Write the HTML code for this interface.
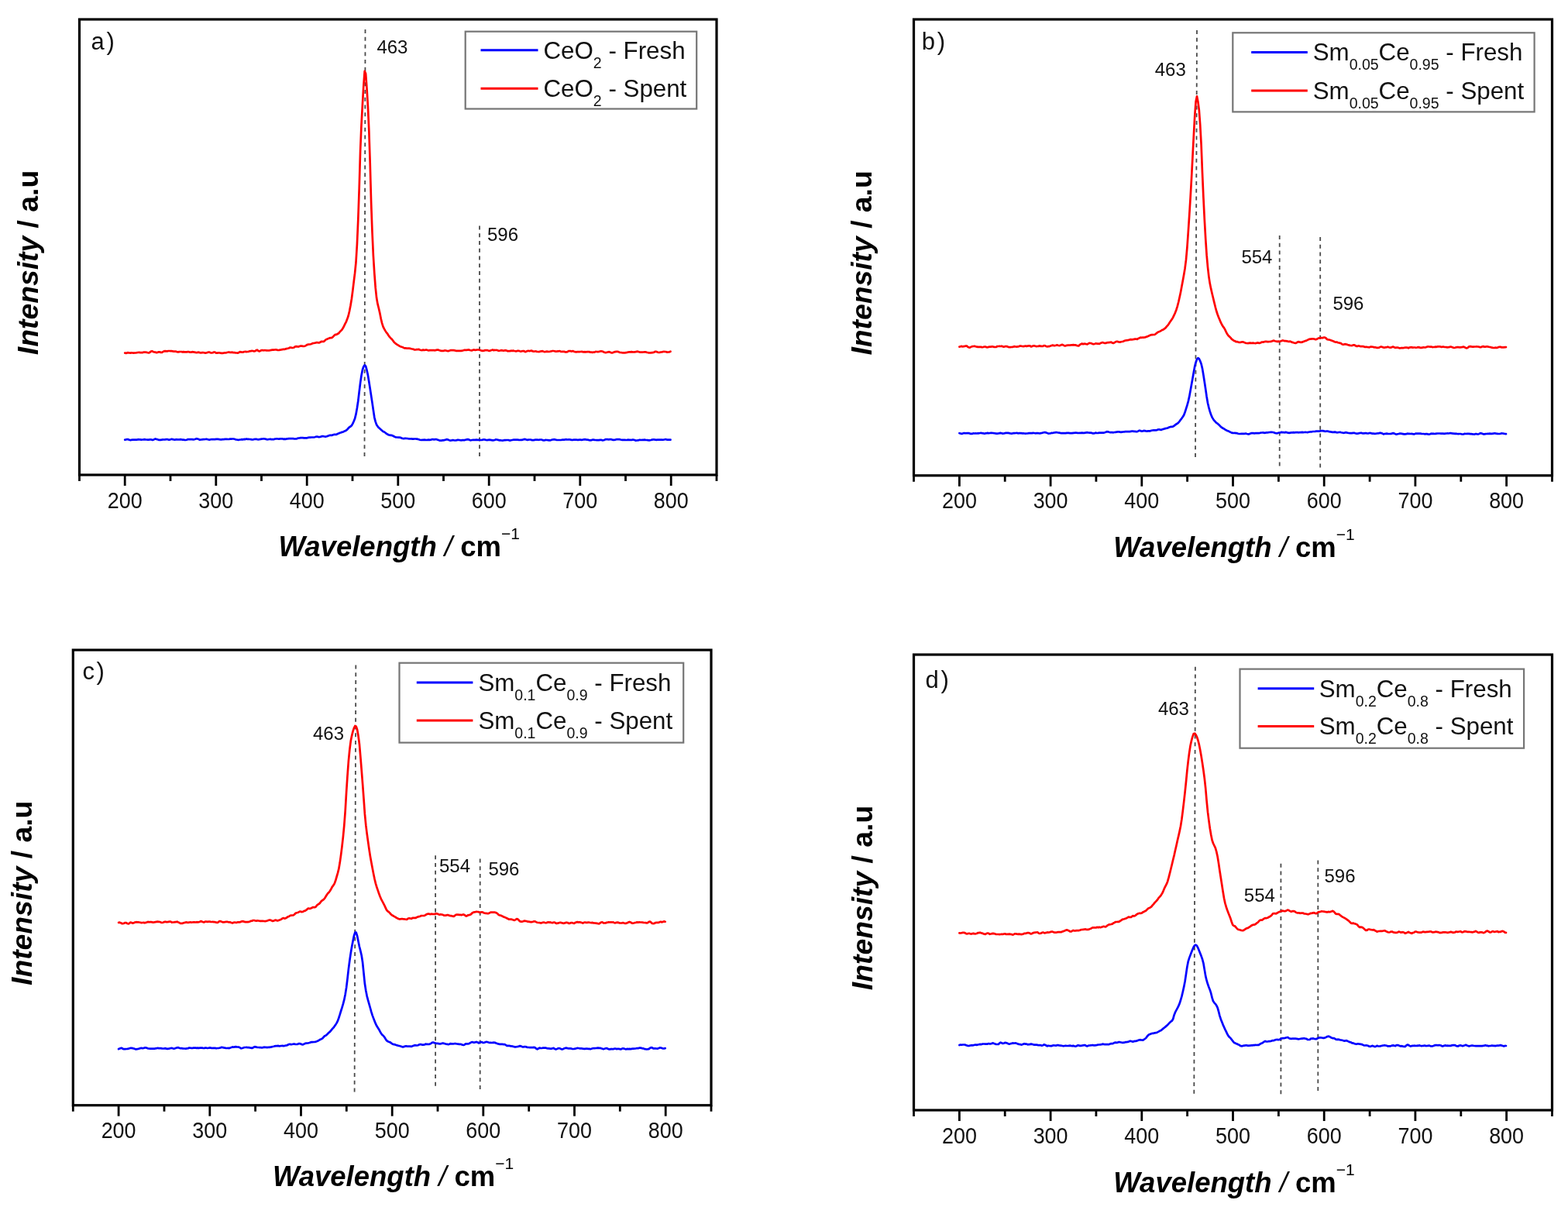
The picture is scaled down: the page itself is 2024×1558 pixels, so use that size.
<!DOCTYPE html>
<html><head><meta charset="utf-8"><title>Raman spectra of fresh and spent CeO2 and Sm-doped ceria</title>
<style>html,body{margin:0;padding:0;background:#fff;overflow:hidden}svg{display:block}text{font-family:"Liberation Sans", Arial, sans-serif}</style>
</head><body>
<svg width="2024" height="1558" viewBox="0 0 2024 1558">
<rect width="2024" height="1558" fill="#fff"/>
<g id="panel-a">
<line x1="471.5" y1="38" x2="470.5" y2="592" stroke="#4a4a4a" stroke-width="1.8" stroke-dasharray="5,4.75"/>
<line x1="619" y1="291.5" x2="619" y2="592" stroke="#4a4a4a" stroke-width="1.8" stroke-dasharray="5,4.75"/>
<path d="M161.2,455.7 L162.7,455.9 L164.1,455.4 L165.5,455.2 L166.9,455.5 L168.3,455.6 L169.7,455.4 L171.1,455.5 L172.5,455.7 L173.9,455.5 L175.3,455.5 L176.7,455.2 L178.1,455.0 L179.5,454.8 L180.9,455.1 L182.3,455.2 L183.7,455.2 L185.1,454.7 L186.5,454.6 L187.9,454.7 L189.3,454.8 L190.7,455.2 L192.1,455.5 L193.5,454.8 L194.9,453.6 L196.3,453.3 L197.7,454.0 L199.1,454.5 L200.5,454.6 L201.9,455.2 L203.3,454.9 L204.7,454.3 L206.1,454.3 L207.5,454.9 L208.9,455.0 L210.3,454.2 L211.7,453.4 L213.1,453.1 L214.5,453.4 L215.9,453.4 L217.3,453.0 L218.7,453.0 L220.1,453.1 L221.5,453.2 L222.9,453.4 L224.3,453.7 L225.7,453.6 L227.1,453.7 L228.5,454.1 L229.9,454.4 L231.3,454.1 L232.7,454.0 L234.1,454.0 L235.5,454.4 L236.9,454.1 L238.3,454.4 L239.7,454.4 L241.1,454.4 L242.5,454.0 L243.9,454.2 L245.3,454.7 L246.7,454.6 L248.1,454.2 L249.5,454.3 L250.9,454.6 L252.3,454.9 L253.7,455.2 L255.1,454.9 L256.5,454.7 L257.9,455.1 L259.3,455.5 L260.7,455.1 L262.1,455.0 L263.5,455.3 L264.9,455.7 L266.3,455.5 L267.7,455.0 L269.1,454.6 L270.5,454.7 L271.9,455.3 L273.3,455.5 L274.7,455.2 L276.1,454.5 L277.5,454.7 L278.9,455.6 L280.3,455.7 L281.7,455.4 L283.1,455.3 L284.5,455.7 L285.9,455.9 L287.3,455.9 L288.7,455.7 L290.1,455.3 L291.5,455.5 L292.9,455.0 L294.3,454.7 L295.7,454.6 L297.1,454.8 L298.5,454.8 L299.9,454.7 L301.3,455.2 L302.7,455.2 L304.1,455.4 L305.5,455.5 L306.9,455.7 L308.3,455.1 L309.7,454.2 L311.1,454.4 L312.5,454.7 L313.9,454.6 L315.3,454.0 L316.7,453.9 L318.1,454.1 L319.5,454.0 L320.9,453.8 L322.3,453.3 L323.7,453.2 L325.1,452.9 L326.5,453.0 L327.9,453.4 L329.3,453.2 L330.7,452.1 L332.1,451.7 L333.5,453.0 L334.9,453.5 L336.3,452.7 L337.7,452.1 L339.1,452.2 L340.5,452.3 L341.9,452.0 L343.3,452.3 L344.7,452.4 L346.1,452.5 L347.5,452.3 L348.9,452.1 L350.3,451.8 L351.7,451.6 L353.1,451.7 L354.5,451.5 L355.9,451.3 L357.3,451.6 L358.7,452.0 L360.1,452.0 L361.5,451.6 L362.9,451.4 L364.3,451.1 L365.7,450.9 L367.1,450.9 L368.5,450.4 L369.9,450.1 L371.3,449.8 L372.7,449.5 L374.1,448.7 L375.5,448.5 L376.9,449.0 L378.3,448.8 L379.7,448.5 L381.1,447.3 L382.5,447.2 L383.9,447.3 L385.3,447.6 L386.7,447.1 L388.1,446.6 L389.5,446.7 L390.9,446.8 L392.3,447.0 L393.7,446.7 L395.1,445.9 L396.5,445.0 L397.9,444.6 L399.3,444.5 L400.7,444.3 L402.1,444.0 L403.5,443.2 L404.9,443.0 L406.3,442.7 L407.7,442.4 L409.1,442.0 L410.5,442.3 L411.9,442.4 L413.3,441.8 L414.7,440.8 L416.1,440.9 L417.5,441.0 L418.9,440.2 L420.3,438.6 L421.7,437.9 L423.1,437.3 L424.5,436.8 L425.9,436.1 L427.3,436.1 L428.7,435.7 L430.1,434.4 L431.5,433.0 L432.9,431.8 L434.3,431.8 L435.7,431.0 L437.1,430.3 L438.5,428.5 L439.9,427.1 L441.3,425.7 L442.7,423.6 L444.1,420.8 L445.5,417.9 L446.9,415.3 L448.3,411.6 L449.7,407.5 L451.1,401.5 L452.5,394.3 L453.9,385.8 L455.3,375.3 L456.7,363.7 L458.1,352.4 L459.5,338.5 L460.9,315.5 L462.3,283.2 L463.7,242.7 L465.1,195.0 L466.5,161.4 L467.9,135.4 L469.3,110.8 L470.7,91.9 L472.1,95.1 L473.5,113.9 L474.9,137.2 L476.3,168.2 L477.7,210.2 L479.1,261.3 L480.5,299.8 L481.9,330.5 L483.3,352.9 L484.7,371.4 L486.1,384.6 L487.5,392.4 L488.9,398.0 L490.3,404.1 L491.7,411.2 L493.1,417.1 L494.5,421.6 L495.9,424.4 L497.3,426.9 L498.7,429.1 L500.1,430.7 L501.5,433.0 L502.9,434.9 L504.3,436.4 L505.7,437.7 L507.1,439.5 L508.5,441.4 L509.9,442.7 L511.3,443.9 L512.7,444.9 L514.1,445.7 L515.5,446.6 L516.9,447.3 L518.3,447.8 L519.7,448.1 L521.1,448.9 L522.5,449.4 L523.9,449.4 L525.3,449.7 L526.7,449.7 L528.1,449.7 L529.5,449.8 L530.9,450.2 L532.3,450.5 L533.7,450.8 L535.1,451.5 L536.5,451.4 L537.9,451.2 L539.3,451.1 L540.7,450.9 L542.1,451.7 L543.5,452.0 L544.9,452.1 L546.3,451.6 L547.7,452.0 L549.1,451.7 L550.5,451.5 L551.9,452.0 L553.3,452.4 L554.7,452.1 L556.1,452.1 L557.5,452.0 L558.9,452.1 L560.3,452.2 L561.7,452.3 L563.1,451.8 L564.5,451.6 L565.9,451.7 L567.3,452.3 L568.7,452.6 L570.1,453.0 L571.5,452.8 L572.9,452.8 L574.3,452.4 L575.7,452.5 L577.1,453.0 L578.5,453.2 L579.9,452.7 L581.3,452.2 L582.7,452.1 L584.1,452.1 L585.5,452.1 L586.9,452.3 L588.3,452.8 L589.7,452.9 L591.1,452.9 L592.5,452.8 L593.9,452.8 L595.3,452.9 L596.7,452.6 L598.1,452.3 L599.5,451.8 L600.9,451.9 L602.3,451.8 L603.7,451.7 L605.1,451.4 L606.5,452.0 L607.9,452.3 L609.3,452.4 L610.7,451.7 L612.1,451.6 L613.5,451.8 L614.9,451.7 L616.3,451.5 L617.7,451.5 L619.1,451.7 L620.5,452.2 L621.9,452.7 L623.3,452.9 L624.7,452.7 L626.1,452.1 L627.5,452.1 L628.9,452.1 L630.3,452.6 L631.7,452.9 L633.1,452.4 L634.5,452.0 L635.9,451.5 L637.3,452.2 L638.7,451.9 L640.1,452.0 L641.5,451.9 L642.9,452.6 L644.3,452.8 L645.7,452.5 L647.1,452.1 L648.5,452.4 L649.9,452.7 L651.3,452.4 L652.7,452.2 L654.1,452.6 L655.5,453.3 L656.9,453.0 L658.3,453.1 L659.7,452.7 L661.1,452.8 L662.5,452.6 L663.9,453.0 L665.3,453.3 L666.7,453.3 L668.1,452.9 L669.5,452.8 L670.9,453.3 L672.3,453.7 L673.7,453.3 L675.1,453.0 L676.5,453.2 L677.9,454.1 L679.3,453.7 L680.7,453.0 L682.1,452.9 L683.5,453.2 L684.9,452.8 L686.3,452.6 L687.7,453.5 L689.1,453.7 L690.5,453.5 L691.9,453.4 L693.3,454.0 L694.7,454.0 L696.1,454.1 L697.5,453.6 L698.9,453.4 L700.3,453.2 L701.7,453.7 L703.1,454.1 L704.5,453.9 L705.9,453.6 L707.3,453.8 L708.7,454.0 L710.1,453.7 L711.5,453.5 L712.9,453.0 L714.3,453.0 L715.7,453.3 L717.1,453.6 L718.5,453.7 L719.9,453.4 L721.3,453.3 L722.7,453.0 L724.1,454.0 L725.5,453.9 L726.9,453.9 L728.3,453.8 L729.7,454.4 L731.1,454.5 L732.5,454.1 L733.9,453.2 L735.3,453.0 L736.7,453.2 L738.1,453.6 L739.5,453.1 L740.9,453.7 L742.3,454.2 L743.7,454.3 L745.1,454.2 L746.5,454.1 L747.9,454.2 L749.3,454.0 L750.7,453.9 L752.1,454.1 L753.5,454.3 L754.9,454.2 L756.3,454.3 L757.7,454.2 L759.1,454.2 L760.5,454.1 L761.9,454.7 L763.3,454.6 L764.7,454.8 L766.1,454.7 L767.5,454.6 L768.9,453.9 L770.3,454.0 L771.7,454.2 L773.1,454.0 L774.5,453.5 L775.9,453.3 L777.3,453.5 L778.7,454.1 L780.1,454.8 L781.5,455.2 L782.9,455.0 L784.3,454.5 L785.7,454.2 L787.1,454.4 L788.5,455.1 L789.9,455.5 L791.3,455.1 L792.7,454.4 L794.1,454.1 L795.5,453.9 L796.9,453.8 L798.3,454.1 L799.7,454.8 L801.1,455.0 L802.5,455.2 L803.9,455.3 L805.3,455.3 L806.7,455.3 L808.1,455.1 L809.5,454.9 L810.9,454.5 L812.3,454.3 L813.7,454.4 L815.1,454.2 L816.5,454.3 L817.9,454.5 L819.3,454.3 L820.7,454.2 L822.1,453.7 L823.5,453.9 L824.9,454.3 L826.3,454.7 L827.7,454.7 L829.1,454.7 L830.5,454.5 L831.9,454.3 L833.3,454.3 L834.7,454.8 L836.1,455.0 L837.5,455.5 L838.9,455.4 L840.3,455.4 L841.7,455.1 L843.1,455.1 L844.5,454.5 L845.9,453.8 L847.3,453.9 L848.7,454.5 L850.1,455.0 L851.5,454.9 L852.9,454.5 L854.3,454.5 L855.7,454.0 L857.1,453.9 L858.5,454.0 L859.9,454.2 L861.3,454.6 L862.7,454.5 L864.1,454.3 L865.5,453.7" fill="none" stroke="#ff0000" stroke-width="2.7" stroke-linejoin="round" stroke-linecap="round"/>
<path d="M161.2,567.6 L162.7,567.4 L164.1,567.0 L165.5,567.2 L166.9,567.8 L168.3,568.1 L169.7,567.8 L171.1,567.7 L172.5,567.6 L173.9,567.6 L175.3,567.6 L176.7,567.6 L178.1,567.2 L179.5,567.3 L180.9,567.4 L182.3,567.6 L183.7,567.5 L185.1,567.4 L186.5,567.2 L187.9,567.4 L189.3,567.5 L190.7,567.7 L192.1,567.6 L193.5,567.4 L194.9,567.4 L196.3,567.8 L197.7,567.8 L199.1,567.1 L200.5,566.4 L201.9,566.9 L203.3,567.3 L204.7,567.8 L206.1,567.8 L207.5,567.8 L208.9,567.6 L210.3,567.4 L211.7,567.5 L213.1,567.3 L214.5,567.1 L215.9,567.1 L217.3,567.6 L218.7,567.7 L220.1,567.3 L221.5,566.8 L222.9,567.1 L224.3,567.4 L225.7,567.6 L227.1,567.2 L228.5,567.3 L229.9,567.4 L231.3,567.5 L232.7,567.1 L234.1,567.3 L235.5,567.6 L236.9,567.7 L238.3,567.9 L239.7,568.0 L241.1,567.7 L242.5,567.1 L243.9,567.1 L245.3,567.2 L246.7,567.2 L248.1,567.1 L249.5,567.3 L250.9,567.1 L252.3,566.8 L253.7,566.2 L255.1,566.5 L256.5,567.0 L257.9,567.7 L259.3,567.5 L260.7,567.3 L262.1,567.1 L263.5,567.1 L264.9,567.0 L266.3,566.7 L267.7,567.0 L269.1,567.5 L270.5,567.6 L271.9,567.3 L273.3,567.0 L274.7,567.1 L276.1,567.2 L277.5,567.1 L278.9,566.9 L280.3,566.8 L281.7,566.9 L283.1,567.2 L284.5,567.3 L285.9,567.4 L287.3,567.2 L288.7,567.2 L290.1,566.9 L291.5,566.9 L292.9,566.9 L294.3,567.0 L295.7,566.9 L297.1,566.7 L298.5,566.7 L299.9,566.5 L301.3,566.5 L302.7,566.8 L304.1,567.3 L305.5,567.5 L306.9,567.8 L308.3,567.8 L309.7,567.5 L311.1,567.4 L312.5,567.2 L313.9,567.3 L315.3,566.9 L316.7,567.1 L318.1,566.6 L319.5,566.8 L320.9,566.9 L322.3,567.0 L323.7,567.1 L325.1,567.4 L326.5,567.5 L327.9,567.0 L329.3,566.8 L330.7,566.8 L332.1,567.1 L333.5,567.3 L334.9,567.2 L336.3,566.8 L337.7,566.6 L339.1,566.5 L340.5,566.4 L341.9,566.5 L343.3,566.9 L344.7,567.3 L346.1,567.2 L347.5,567.0 L348.9,566.7 L350.3,567.2 L351.7,567.2 L353.1,567.2 L354.5,566.7 L355.9,566.5 L357.3,566.4 L358.7,566.5 L360.1,566.7 L361.5,566.4 L362.9,566.4 L364.3,566.3 L365.7,566.8 L367.1,566.7 L368.5,566.9 L369.9,566.4 L371.3,566.4 L372.7,566.1 L374.1,566.1 L375.5,566.1 L376.9,566.2 L378.3,566.2 L379.7,566.4 L381.1,566.5 L382.5,566.4 L383.9,565.9 L385.3,565.5 L386.7,565.4 L388.1,565.2 L389.5,565.2 L390.9,565.2 L392.3,565.4 L393.7,565.3 L395.1,565.4 L396.5,565.3 L397.9,564.8 L399.3,564.6 L400.7,564.6 L402.1,564.5 L403.5,564.5 L404.9,564.5 L406.3,564.2 L407.7,563.8 L409.1,563.5 L410.5,563.9 L411.9,564.1 L413.3,564.0 L414.7,563.4 L416.1,563.2 L417.5,563.2 L418.9,563.5 L420.3,563.6 L421.7,563.3 L423.1,562.9 L424.5,562.2 L425.9,561.9 L427.3,561.8 L428.7,561.8 L430.1,561.2 L431.5,560.8 L432.9,560.9 L434.3,560.8 L435.7,560.0 L437.1,559.5 L438.5,558.8 L439.9,558.5 L441.3,557.8 L442.7,557.6 L444.1,556.8 L445.5,556.3 L446.9,555.5 L448.3,554.4 L449.7,552.7 L451.1,551.3 L452.5,550.5 L453.9,549.2 L455.3,546.9 L456.7,543.8 L458.1,540.2 L459.5,534.7 L460.9,526.7 L462.3,517.5 L463.7,505.6 L465.1,494.3 L466.5,484.7 L467.9,477.4 L469.3,473.3 L470.7,471.3 L472.1,472.7 L473.5,477.7 L474.9,484.1 L476.3,492.8 L477.7,501.5 L479.1,510.6 L480.5,519.9 L481.9,529.5 L483.3,538.8 L484.7,544.4 L486.1,548.2 L487.5,550.4 L488.9,552.1 L490.3,553.3 L491.7,554.6 L493.1,555.7 L494.5,556.9 L495.9,557.5 L497.3,558.5 L498.7,559.6 L500.1,560.5 L501.5,561.2 L502.9,561.7 L504.3,561.9 L505.7,561.9 L507.1,562.5 L508.5,563.3 L509.9,564.0 L511.3,564.5 L512.7,564.5 L514.1,564.6 L515.5,564.6 L516.9,564.8 L518.3,565.4 L519.7,566.0 L521.1,566.2 L522.5,565.9 L523.9,565.9 L525.3,566.0 L526.7,566.2 L528.1,566.3 L529.5,566.5 L530.9,566.4 L532.3,566.6 L533.7,566.6 L535.1,566.5 L536.5,566.5 L537.9,566.7 L539.3,566.9 L540.7,567.2 L542.1,567.7 L543.5,568.0 L544.9,567.9 L546.3,567.8 L547.7,567.6 L549.1,567.8 L550.5,568.0 L551.9,567.8 L553.3,567.6 L554.7,567.8 L556.1,567.6 L557.5,567.2 L558.9,567.1 L560.3,567.3 L561.7,567.1 L563.1,567.1 L564.5,567.6 L565.9,567.9 L567.3,568.6 L568.7,568.6 L570.1,568.6 L571.5,568.2 L572.9,568.3 L574.3,567.9 L575.7,567.4 L577.1,567.2 L578.5,567.6 L579.9,568.3 L581.3,568.6 L582.7,568.5 L584.1,568.1 L585.5,568.2 L586.9,568.5 L588.3,568.5 L589.7,568.1 L591.1,567.7 L592.5,568.0 L593.9,568.2 L595.3,568.3 L596.7,568.1 L598.1,568.1 L599.5,568.1 L600.9,567.7 L602.3,567.4 L603.7,567.1 L605.1,567.4 L606.5,568.2 L607.9,568.3 L609.3,568.0 L610.7,567.8 L612.1,567.9 L613.5,567.8 L614.9,567.6 L616.3,567.9 L617.7,567.9 L619.1,568.0 L620.5,568.0 L621.9,568.0 L623.3,567.6 L624.7,567.3 L626.1,567.6 L627.5,568.0 L628.9,568.1 L630.3,567.8 L631.7,567.7 L633.1,567.9 L634.5,568.1 L635.9,568.4 L637.3,568.3 L638.7,568.0 L640.1,567.3 L641.5,567.5 L642.9,567.9 L644.3,568.3 L645.7,568.2 L647.1,568.5 L648.5,568.6 L649.9,568.4 L651.3,568.1 L652.7,568.1 L654.1,568.0 L655.5,568.0 L656.9,568.2 L658.3,568.6 L659.7,568.3 L661.1,568.0 L662.5,567.7 L663.9,567.6 L665.3,567.5 L666.7,567.7 L668.1,567.7 L669.5,567.8 L670.9,568.0 L672.3,567.9 L673.7,567.9 L675.1,567.4 L676.5,567.1 L677.9,566.9 L679.3,567.4 L680.7,567.9 L682.1,567.6 L683.5,567.5 L684.9,567.5 L686.3,568.1 L687.7,568.1 L689.1,568.1 L690.5,567.7 L691.9,567.6 L693.3,567.5 L694.7,567.8 L696.1,567.7 L697.5,567.5 L698.9,567.5 L700.3,568.1 L701.7,568.4 L703.1,568.3 L704.5,567.9 L705.9,568.0 L707.3,568.1 L708.7,568.4 L710.1,568.4 L711.5,568.0 L712.9,567.5 L714.3,567.3 L715.7,567.2 L717.1,567.5 L718.5,568.0 L719.9,568.0 L721.3,568.0 L722.7,568.0 L724.1,568.0 L725.5,567.7 L726.9,567.7 L728.3,567.7 L729.7,567.3 L731.1,567.2 L732.5,567.5 L733.9,567.4 L735.3,567.3 L736.7,567.6 L738.1,568.0 L739.5,567.8 L740.9,567.7 L742.3,567.6 L743.7,567.5 L745.1,567.8 L746.5,567.8 L747.9,567.7 L749.3,567.6 L750.7,567.8 L752.1,567.6 L753.5,567.3 L754.9,567.2 L756.3,567.4 L757.7,567.7 L759.1,567.7 L760.5,568.2 L761.9,568.3 L763.3,568.2 L764.7,567.7 L766.1,567.7 L767.5,567.9 L768.9,568.0 L770.3,568.2 L771.7,568.2 L773.1,568.1 L774.5,567.9 L775.9,567.8 L777.3,568.3 L778.7,568.3 L780.1,568.0 L781.5,567.2 L782.9,567.0 L784.3,567.1 L785.7,567.3 L787.1,567.2 L788.5,567.2 L789.9,567.4 L791.3,567.9 L792.7,567.8 L794.1,567.6 L795.5,567.2 L796.9,567.2 L798.3,567.1 L799.7,567.1 L801.1,567.5 L802.5,567.8 L803.9,567.8 L805.3,567.8 L806.7,567.9 L808.1,568.0 L809.5,567.9 L810.9,567.7 L812.3,567.8 L813.7,567.9 L815.1,568.0 L816.5,567.6 L817.9,567.7 L819.3,568.0 L820.7,568.7 L822.1,568.5 L823.5,568.4 L824.9,567.9 L826.3,567.9 L827.7,568.0 L829.1,567.9 L830.5,567.8 L831.9,567.7 L833.3,567.9 L834.7,568.0 L836.1,568.2 L837.5,568.4 L838.9,568.3 L840.3,568.0 L841.7,567.6 L843.1,567.4 L844.5,567.4 L845.9,567.7 L847.3,567.9 L848.7,567.7 L850.1,567.6 L851.5,567.7 L852.9,567.7 L854.3,567.5 L855.7,567.8 L857.1,567.5 L858.5,567.2 L859.9,567.2 L861.3,567.7 L862.7,567.7 L864.1,567.5 L865.5,567.6" fill="none" stroke="#0000ff" stroke-width="2.7" stroke-linejoin="round" stroke-linecap="round"/>
<rect x="102.5" y="25.0" width="822.5" height="588.0" fill="none" stroke="#000" stroke-width="3.2"/>
<line x1="102.5" y1="613.0" x2="102.5" y2="621.0" stroke="#000" stroke-width="2.8"/>
<line x1="161.2" y1="613.0" x2="161.2" y2="627.0" stroke="#000" stroke-width="2.8"/>
<text transform="translate(161.2,655.5) scale(0.935,1)" font-size="28.8" text-anchor="middle" fill="#111">200</text>
<line x1="220.0" y1="613.0" x2="220.0" y2="621.0" stroke="#000" stroke-width="2.8"/>
<line x1="278.8" y1="613.0" x2="278.8" y2="627.0" stroke="#000" stroke-width="2.8"/>
<text transform="translate(278.8,655.5) scale(0.935,1)" font-size="28.8" text-anchor="middle" fill="#111">300</text>
<line x1="337.5" y1="613.0" x2="337.5" y2="621.0" stroke="#000" stroke-width="2.8"/>
<line x1="396.2" y1="613.0" x2="396.2" y2="627.0" stroke="#000" stroke-width="2.8"/>
<text transform="translate(396.2,655.5) scale(0.935,1)" font-size="28.8" text-anchor="middle" fill="#111">400</text>
<line x1="455.0" y1="613.0" x2="455.0" y2="621.0" stroke="#000" stroke-width="2.8"/>
<line x1="513.8" y1="613.0" x2="513.8" y2="627.0" stroke="#000" stroke-width="2.8"/>
<text transform="translate(513.8,655.5) scale(0.935,1)" font-size="28.8" text-anchor="middle" fill="#111">500</text>
<line x1="572.5" y1="613.0" x2="572.5" y2="621.0" stroke="#000" stroke-width="2.8"/>
<line x1="631.2" y1="613.0" x2="631.2" y2="627.0" stroke="#000" stroke-width="2.8"/>
<text transform="translate(631.2,655.5) scale(0.935,1)" font-size="28.8" text-anchor="middle" fill="#111">600</text>
<line x1="690.0" y1="613.0" x2="690.0" y2="621.0" stroke="#000" stroke-width="2.8"/>
<line x1="748.8" y1="613.0" x2="748.8" y2="627.0" stroke="#000" stroke-width="2.8"/>
<text transform="translate(748.8,655.5) scale(0.935,1)" font-size="28.8" text-anchor="middle" fill="#111">700</text>
<line x1="807.5" y1="613.0" x2="807.5" y2="621.0" stroke="#000" stroke-width="2.8"/>
<line x1="866.2" y1="613.0" x2="866.2" y2="627.0" stroke="#000" stroke-width="2.8"/>
<text transform="translate(866.2,655.5) scale(0.935,1)" font-size="28.8" text-anchor="middle" fill="#111">800</text>
<line x1="925.0" y1="613.0" x2="925.0" y2="621.0" stroke="#000" stroke-width="2.8"/>
<text x="117.5" y="63.7" font-size="31" fill="#111">a</text>
<text x="137.5" y="63.7" font-size="31" fill="#111">)</text>
<text x="486.4" y="68.8" font-size="24" fill="#111">463</text>
<text x="629.0" y="311.2" font-size="24" fill="#111">596</text>
<rect x="600.7" y="40.7" width="298.5" height="99.8" fill="#fff" stroke="#767676" stroke-width="2.2"/>
<line x1="620.5" y1="64.8" x2="694.5" y2="64.8" stroke="#0000ff" stroke-width="3"/>
<line x1="620.5" y1="114.3" x2="694.5" y2="114.3" stroke="#ff0000" stroke-width="3"/>
<text x="701.5" y="75.5" font-size="31.3" fill="#111">CeO<tspan font-size="19.5" dy="12">2</tspan><tspan dy="-12">​</tspan> - Fresh</text>
<text x="701.5" y="125.0" font-size="31.3" fill="#111">CeO<tspan font-size="19.5" dy="12">2</tspan><tspan dy="-12">​</tspan> - Spent</text>
<text x="515.2" y="717.8" font-size="36.5" font-weight="bold" text-anchor="middle" fill="#000"><tspan font-style="italic">Wavelength</tspan><tspan font-style="italic" font-weight="normal"> / </tspan>cm<tspan font-size="21" font-weight="normal" dy="-22">&#8722;1</tspan></text>
<text transform="translate(48.5,339.0) rotate(-90)" font-size="37.3" font-weight="bold" text-anchor="middle" fill="#000"><tspan font-style="italic">Intensity</tspan> / a.u</text>
</g>
<g id="panel-b">
<line x1="1545" y1="39" x2="1543" y2="592" stroke="#4a4a4a" stroke-width="1.8" stroke-dasharray="5,4.75"/>
<line x1="1651.7" y1="304" x2="1651.7" y2="604" stroke="#4a4a4a" stroke-width="1.8" stroke-dasharray="5,4.75"/>
<line x1="1704.2" y1="306" x2="1704.2" y2="605.5" stroke="#4a4a4a" stroke-width="1.8" stroke-dasharray="5,4.75"/>
<path d="M1238.4,447.6 L1239.8,447.3 L1241.2,446.9 L1242.6,447.4 L1244.0,447.2 L1245.4,446.9 L1246.8,446.7 L1248.2,446.7 L1249.6,448.1 L1251.0,448.6 L1252.4,448.5 L1253.8,447.5 L1255.2,447.2 L1256.6,447.0 L1258.0,446.9 L1259.4,447.3 L1260.8,447.6 L1262.2,447.9 L1263.6,447.8 L1265.0,447.8 L1266.4,447.9 L1267.8,448.3 L1269.2,448.0 L1270.6,447.5 L1272.0,447.5 L1273.4,448.2 L1274.8,448.3 L1276.2,447.9 L1277.6,447.7 L1279.0,447.6 L1280.4,447.4 L1281.8,447.4 L1283.2,447.9 L1284.6,448.0 L1286.0,447.9 L1287.4,447.0 L1288.8,447.0 L1290.2,446.9 L1291.6,447.0 L1293.0,446.7 L1294.4,447.4 L1295.8,447.7 L1297.2,447.2 L1298.6,447.0 L1300.0,447.2 L1301.4,447.9 L1302.8,448.2 L1304.2,448.2 L1305.6,448.0 L1307.0,447.9 L1308.4,447.4 L1309.8,447.2 L1311.2,447.5 L1312.6,447.7 L1314.0,447.3 L1315.4,447.1 L1316.8,446.5 L1318.2,446.7 L1319.6,447.0 L1321.0,447.2 L1322.4,446.8 L1323.8,446.6 L1325.2,447.1 L1326.6,446.6 L1328.0,446.4 L1329.4,446.4 L1330.8,447.4 L1332.2,447.1 L1333.6,446.4 L1335.0,446.3 L1336.4,446.8 L1337.8,447.2 L1339.2,447.0 L1340.6,446.9 L1342.0,446.3 L1343.4,446.9 L1344.8,446.9 L1346.2,447.0 L1347.6,446.0 L1349.0,446.3 L1350.4,446.9 L1351.8,447.4 L1353.2,447.2 L1354.6,447.1 L1356.0,446.6 L1357.4,446.0 L1358.8,445.6 L1360.2,446.1 L1361.6,446.1 L1363.0,445.8 L1364.4,445.4 L1365.8,445.8 L1367.2,446.1 L1368.6,445.9 L1370.0,445.1 L1371.4,444.9 L1372.8,445.6 L1374.2,446.4 L1375.6,446.3 L1377.0,445.8 L1378.4,445.6 L1379.8,445.5 L1381.2,445.7 L1382.6,445.4 L1384.0,445.3 L1385.4,445.1 L1386.8,445.3 L1388.2,445.3 L1389.6,445.9 L1391.0,446.3 L1392.4,446.4 L1393.8,445.1 L1395.2,444.2 L1396.6,443.6 L1398.0,444.2 L1399.4,443.7 L1400.8,443.8 L1402.2,444.1 L1403.6,444.3 L1405.0,443.4 L1406.4,442.8 L1407.8,443.0 L1409.2,443.4 L1410.6,444.1 L1412.0,444.1 L1413.4,443.8 L1414.8,443.3 L1416.2,443.7 L1417.6,443.7 L1419.0,443.9 L1420.4,443.1 L1421.8,442.5 L1423.2,442.0 L1424.6,442.5 L1426.0,442.9 L1427.4,442.9 L1428.8,442.3 L1430.2,442.2 L1431.6,442.1 L1433.0,441.8 L1434.4,441.7 L1435.8,442.6 L1437.2,442.9 L1438.6,442.3 L1440.0,441.2 L1441.4,440.8 L1442.8,440.9 L1444.2,441.5 L1445.6,441.7 L1447.0,441.3 L1448.4,441.0 L1449.8,440.7 L1451.2,440.0 L1452.6,439.5 L1454.0,439.3 L1455.4,439.2 L1456.8,438.9 L1458.2,438.4 L1459.6,438.2 L1461.0,438.3 L1462.4,438.2 L1463.8,437.9 L1465.2,437.6 L1466.6,437.7 L1468.0,437.8 L1469.4,436.9 L1470.8,436.3 L1472.2,435.6 L1473.6,435.8 L1475.0,435.5 L1476.4,435.6 L1477.8,435.5 L1479.2,434.9 L1480.6,434.6 L1482.0,433.9 L1483.4,433.3 L1484.8,432.6 L1486.2,432.2 L1487.6,432.2 L1489.0,432.0 L1490.4,432.0 L1491.8,431.0 L1493.2,429.9 L1494.6,428.7 L1496.0,428.3 L1497.4,427.6 L1498.8,426.8 L1500.2,425.9 L1501.6,425.5 L1503.0,424.4 L1504.4,423.4 L1505.8,421.7 L1507.2,420.2 L1508.6,418.2 L1510.0,416.1 L1511.4,414.1 L1512.8,412.1 L1514.2,409.6 L1515.6,406.7 L1517.0,403.6 L1518.4,399.9 L1519.8,395.3 L1521.2,390.0 L1522.6,383.8 L1524.0,377.2 L1525.4,369.8 L1526.8,362.3 L1528.2,354.5 L1529.6,346.2 L1531.0,335.2 L1532.4,319.4 L1533.8,299.3 L1535.2,278.2 L1536.6,255.3 L1538.0,230.7 L1539.4,203.5 L1540.8,176.3 L1542.2,150.0 L1543.6,131.0 L1545.0,124.3 L1546.4,131.3 L1547.8,141.9 L1549.2,161.0 L1550.6,186.9 L1552.0,222.9 L1553.4,254.8 L1554.8,283.4 L1556.2,308.1 L1557.6,329.2 L1559.0,344.8 L1560.4,357.1 L1561.8,366.1 L1563.2,372.9 L1564.6,379.0 L1566.0,384.8 L1567.4,390.6 L1568.8,396.3 L1570.2,401.5 L1571.6,405.7 L1573.0,409.4 L1574.4,412.8 L1575.8,416.2 L1577.2,419.0 L1578.6,421.3 L1580.0,423.1 L1581.4,425.6 L1582.8,428.7 L1584.2,431.3 L1585.6,433.2 L1587.0,434.5 L1588.4,435.9 L1589.8,437.6 L1591.2,438.6 L1592.6,439.7 L1594.0,440.1 L1595.4,441.1 L1596.8,441.1 L1598.2,441.6 L1599.6,441.8 L1601.0,442.0 L1602.4,441.5 L1603.8,441.3 L1605.2,441.6 L1606.6,442.3 L1608.0,442.8 L1609.4,443.0 L1610.8,443.1 L1612.2,442.9 L1613.6,442.7 L1615.0,442.8 L1616.4,442.8 L1617.8,442.7 L1619.2,443.0 L1620.6,443.1 L1622.0,442.7 L1623.4,442.4 L1624.8,442.8 L1626.2,442.8 L1627.6,442.2 L1629.0,441.5 L1630.4,441.7 L1631.8,441.2 L1633.2,440.9 L1634.6,440.9 L1636.0,441.1 L1637.4,441.1 L1638.8,441.0 L1640.2,440.9 L1641.6,440.4 L1643.0,439.9 L1644.4,439.7 L1645.8,440.2 L1647.2,440.5 L1648.6,440.9 L1650.0,440.6 L1651.4,440.9 L1652.8,440.5 L1654.2,439.9 L1655.6,439.4 L1657.0,439.7 L1658.4,440.2 L1659.8,440.1 L1661.2,440.3 L1662.6,440.8 L1664.0,440.8 L1665.4,440.6 L1666.8,441.3 L1668.2,441.9 L1669.6,442.3 L1671.0,442.7 L1672.4,443.0 L1673.8,442.3 L1675.2,441.4 L1676.6,441.2 L1678.0,441.7 L1679.4,441.9 L1680.8,441.7 L1682.2,441.0 L1683.6,440.6 L1685.0,440.0 L1686.4,439.6 L1687.8,438.9 L1689.2,438.1 L1690.6,437.7 L1692.0,437.6 L1693.4,437.4 L1694.8,437.4 L1696.2,437.5 L1697.6,438.1 L1699.0,438.1 L1700.4,437.5 L1701.8,436.5 L1703.2,436.3 L1704.6,436.2 L1706.0,436.2 L1707.4,436.2 L1708.8,435.6 L1710.2,435.7 L1711.6,436.5 L1713.0,438.0 L1714.4,438.4 L1715.8,438.5 L1717.2,439.0 L1718.6,439.5 L1720.0,440.0 L1721.4,440.5 L1722.8,441.3 L1724.2,441.6 L1725.6,441.6 L1727.0,442.2 L1728.4,442.5 L1729.8,442.9 L1731.2,443.3 L1732.6,444.5 L1734.0,444.8 L1735.4,444.4 L1736.8,444.2 L1738.2,444.6 L1739.6,445.1 L1741.0,445.3 L1742.4,445.9 L1743.8,446.0 L1745.2,446.1 L1746.6,445.4 L1748.0,445.3 L1749.4,446.0 L1750.8,446.9 L1752.2,446.9 L1753.6,446.3 L1755.0,446.7 L1756.4,447.2 L1757.8,447.2 L1759.2,447.2 L1760.6,447.4 L1762.0,448.0 L1763.4,447.7 L1764.8,448.0 L1766.2,448.2 L1767.6,448.3 L1769.0,447.7 L1770.4,447.5 L1771.8,447.8 L1773.2,448.1 L1774.6,448.4 L1776.0,448.4 L1777.4,448.9 L1778.8,448.9 L1780.2,448.7 L1781.6,447.8 L1783.0,447.5 L1784.4,448.0 L1785.8,448.6 L1787.2,448.6 L1788.6,448.3 L1790.0,448.1 L1791.4,447.7 L1792.8,448.2 L1794.2,448.6 L1795.6,448.6 L1797.0,447.8 L1798.4,447.6 L1799.8,448.3 L1801.2,448.9 L1802.6,448.7 L1804.0,448.5 L1805.4,449.0 L1806.8,449.5 L1808.2,449.2 L1809.6,449.1 L1811.0,449.1 L1812.4,449.0 L1813.8,448.5 L1815.2,448.6 L1816.6,448.7 L1818.0,449.3 L1819.4,448.5 L1820.8,448.3 L1822.2,448.2 L1823.6,448.7 L1825.0,448.5 L1826.4,448.5 L1827.8,448.8 L1829.2,448.5 L1830.6,448.1 L1832.0,448.3 L1833.4,448.9 L1834.8,448.9 L1836.2,448.6 L1837.6,448.3 L1839.0,448.5 L1840.4,448.3 L1841.8,447.7 L1843.2,447.4 L1844.6,447.5 L1846.0,447.6 L1847.4,447.6 L1848.8,448.1 L1850.2,448.0 L1851.6,448.0 L1853.0,447.6 L1854.4,447.8 L1855.8,447.4 L1857.2,447.3 L1858.6,447.3 L1860.0,447.8 L1861.4,447.8 L1862.8,447.5 L1864.2,447.8 L1865.6,448.0 L1867.0,448.1 L1868.4,448.3 L1869.8,448.2 L1871.2,447.9 L1872.6,447.5 L1874.0,448.0 L1875.4,448.5 L1876.8,449.0 L1878.2,448.7 L1879.6,448.3 L1881.0,448.1 L1882.4,448.1 L1883.8,448.3 L1885.2,448.3 L1886.6,448.2 L1888.0,447.9 L1889.4,447.7 L1890.8,448.3 L1892.2,449.2 L1893.6,449.3 L1895.0,448.6 L1896.4,447.3 L1897.8,447.2 L1899.2,447.4 L1900.6,447.7 L1902.0,447.7 L1903.4,447.5 L1904.8,447.5 L1906.2,447.4 L1907.6,447.5 L1909.0,447.7 L1910.4,448.1 L1911.8,448.1 L1913.2,447.3 L1914.6,447.1 L1916.0,447.7 L1917.4,447.7 L1918.8,447.3 L1920.2,447.4 L1921.6,447.7 L1923.0,448.0 L1924.4,448.2 L1925.8,448.7 L1927.2,448.9 L1928.6,449.0 L1930.0,448.7 L1931.4,448.8 L1932.8,448.8 L1934.2,448.1 L1935.6,447.8 L1937.0,447.8 L1938.4,448.5 L1939.8,448.4 L1941.2,448.4 L1942.6,448.1 L1944.0,448.1" fill="none" stroke="#ff0000" stroke-width="2.7" stroke-linejoin="round" stroke-linecap="round"/>
<path d="M1238.4,559.2 L1239.8,559.5 L1241.2,559.9 L1242.6,559.6 L1244.0,559.1 L1245.4,559.0 L1246.8,559.3 L1248.2,559.0 L1249.6,559.1 L1251.0,559.2 L1252.4,559.8 L1253.8,559.9 L1255.2,559.8 L1256.6,559.3 L1258.0,559.5 L1259.4,559.3 L1260.8,559.5 L1262.2,559.2 L1263.6,559.3 L1265.0,559.0 L1266.4,558.9 L1267.8,559.2 L1269.2,559.3 L1270.6,559.7 L1272.0,559.4 L1273.4,559.2 L1274.8,558.9 L1276.2,559.3 L1277.6,559.0 L1279.0,558.9 L1280.4,558.9 L1281.8,559.0 L1283.2,559.2 L1284.6,559.3 L1286.0,559.7 L1287.4,559.7 L1288.8,559.5 L1290.2,559.1 L1291.6,558.9 L1293.0,559.2 L1294.4,559.6 L1295.8,559.5 L1297.2,559.1 L1298.6,558.8 L1300.0,558.8 L1301.4,558.9 L1302.8,559.1 L1304.2,559.5 L1305.6,559.6 L1307.0,559.4 L1308.4,559.1 L1309.8,559.1 L1311.2,559.0 L1312.6,558.9 L1314.0,559.3 L1315.4,559.1 L1316.8,559.2 L1318.2,559.2 L1319.6,559.4 L1321.0,559.3 L1322.4,559.5 L1323.8,559.6 L1325.2,559.5 L1326.6,559.4 L1328.0,559.2 L1329.4,559.0 L1330.8,559.1 L1332.2,559.1 L1333.6,558.9 L1335.0,559.0 L1336.4,559.3 L1337.8,559.2 L1339.2,559.1 L1340.6,559.2 L1342.0,559.5 L1343.4,559.1 L1344.8,559.0 L1346.2,558.5 L1347.6,558.2 L1349.0,558.1 L1350.4,558.4 L1351.8,558.9 L1353.2,559.6 L1354.6,559.5 L1356.0,559.3 L1357.4,558.9 L1358.8,559.0 L1360.2,558.5 L1361.6,558.3 L1363.0,558.2 L1364.4,558.2 L1365.8,558.5 L1367.2,558.6 L1368.6,558.9 L1370.0,559.1 L1371.4,559.2 L1372.8,559.1 L1374.2,559.2 L1375.6,559.1 L1377.0,558.9 L1378.4,558.8 L1379.8,558.9 L1381.2,559.2 L1382.6,559.2 L1384.0,559.1 L1385.4,558.9 L1386.8,558.8 L1388.2,558.5 L1389.6,558.7 L1391.0,558.8 L1392.4,559.0 L1393.8,558.8 L1395.2,558.8 L1396.6,558.7 L1398.0,558.8 L1399.4,558.8 L1400.8,558.6 L1402.2,558.4 L1403.6,558.2 L1405.0,558.5 L1406.4,558.6 L1407.8,558.7 L1409.2,558.8 L1410.6,559.4 L1412.0,559.4 L1413.4,558.9 L1414.8,558.7 L1416.2,559.0 L1417.6,558.9 L1419.0,558.6 L1420.4,558.5 L1421.8,558.6 L1423.2,558.7 L1424.6,558.6 L1426.0,558.3 L1427.4,557.8 L1428.8,557.2 L1430.2,557.3 L1431.6,557.8 L1433.0,558.1 L1434.4,558.2 L1435.8,558.2 L1437.2,558.3 L1438.6,558.0 L1440.0,557.8 L1441.4,557.6 L1442.8,557.4 L1444.2,557.4 L1445.6,557.6 L1447.0,557.8 L1448.4,557.6 L1449.8,557.5 L1451.2,557.3 L1452.6,557.2 L1454.0,557.1 L1455.4,557.2 L1456.8,557.2 L1458.2,557.1 L1459.6,556.9 L1461.0,556.7 L1462.4,556.6 L1463.8,556.8 L1465.2,556.9 L1466.6,557.2 L1468.0,557.1 L1469.4,556.4 L1470.8,555.7 L1472.2,556.1 L1473.6,556.7 L1475.0,556.5 L1476.4,555.9 L1477.8,556.1 L1479.2,556.4 L1480.6,556.6 L1482.0,556.3 L1483.4,556.3 L1484.8,556.3 L1486.2,555.8 L1487.6,555.5 L1489.0,555.4 L1490.4,555.4 L1491.8,555.3 L1493.2,555.2 L1494.6,554.5 L1496.0,554.3 L1497.4,554.6 L1498.8,554.9 L1500.2,554.3 L1501.6,553.9 L1503.0,553.4 L1504.4,553.1 L1505.8,552.8 L1507.2,552.5 L1508.6,551.8 L1510.0,551.2 L1511.4,550.9 L1512.8,550.9 L1514.2,550.5 L1515.6,549.6 L1517.0,548.4 L1518.4,547.5 L1519.8,546.7 L1521.2,545.4 L1522.6,543.8 L1524.0,541.8 L1525.4,540.0 L1526.8,538.0 L1528.2,535.7 L1529.6,532.0 L1531.0,527.7 L1532.4,523.2 L1533.8,518.1 L1535.2,511.9 L1536.6,504.3 L1538.0,496.5 L1539.4,488.8 L1540.8,480.7 L1542.2,473.0 L1543.6,467.7 L1545.0,463.8 L1546.4,462.1 L1547.8,463.1 L1549.2,466.0 L1550.6,469.8 L1552.0,475.6 L1553.4,484.0 L1554.8,493.0 L1556.2,502.2 L1557.6,512.0 L1559.0,520.2 L1560.4,526.1 L1561.8,531.1 L1563.2,535.3 L1564.6,538.6 L1566.0,540.9 L1567.4,542.9 L1568.8,544.4 L1570.2,545.9 L1571.6,546.7 L1573.0,548.0 L1574.4,549.3 L1575.8,550.8 L1577.2,551.8 L1578.6,552.8 L1580.0,553.5 L1581.4,554.5 L1582.8,555.3 L1584.2,555.9 L1585.6,556.4 L1587.0,557.2 L1588.4,557.9 L1589.8,558.6 L1591.2,558.8 L1592.6,559.0 L1594.0,558.9 L1595.4,559.1 L1596.8,559.2 L1598.2,559.7 L1599.6,560.0 L1601.0,560.0 L1602.4,559.8 L1603.8,559.9 L1605.2,559.9 L1606.6,559.8 L1608.0,559.5 L1609.4,560.0 L1610.8,560.3 L1612.2,560.4 L1613.6,559.7 L1615.0,559.2 L1616.4,559.0 L1617.8,559.1 L1619.2,559.3 L1620.6,559.1 L1622.0,559.1 L1623.4,559.2 L1624.8,559.1 L1626.2,559.0 L1627.6,558.5 L1629.0,558.5 L1630.4,558.4 L1631.8,558.8 L1633.2,558.7 L1634.6,558.4 L1636.0,558.3 L1637.4,558.2 L1638.8,558.0 L1640.2,557.8 L1641.6,557.8 L1643.0,558.0 L1644.4,558.3 L1645.8,559.0 L1647.2,559.2 L1648.6,559.3 L1650.0,558.8 L1651.4,558.5 L1652.8,558.3 L1654.2,557.9 L1655.6,558.1 L1657.0,558.2 L1658.4,558.3 L1659.8,557.9 L1661.2,558.2 L1662.6,558.7 L1664.0,558.8 L1665.4,558.6 L1666.8,558.4 L1668.2,558.3 L1669.6,558.2 L1671.0,558.3 L1672.4,558.2 L1673.8,558.2 L1675.2,558.1 L1676.6,558.3 L1678.0,558.0 L1679.4,558.1 L1680.8,557.9 L1682.2,558.1 L1683.6,558.0 L1685.0,557.9 L1686.4,558.0 L1687.8,558.1 L1689.2,557.8 L1690.6,557.5 L1692.0,557.4 L1693.4,557.3 L1694.8,557.0 L1696.2,557.0 L1697.6,556.9 L1699.0,556.7 L1700.4,556.6 L1701.8,556.7 L1703.2,556.6 L1704.6,556.2 L1706.0,556.1 L1707.4,556.1 L1708.8,556.4 L1710.2,556.8 L1711.6,556.7 L1713.0,556.5 L1714.4,556.7 L1715.8,557.2 L1717.2,557.4 L1718.6,557.6 L1720.0,557.8 L1721.4,557.8 L1722.8,557.6 L1724.2,557.9 L1725.6,558.3 L1727.0,558.2 L1728.4,558.0 L1729.8,557.8 L1731.2,558.2 L1732.6,558.5 L1734.0,558.8 L1735.4,558.6 L1736.8,558.2 L1738.2,558.4 L1739.6,558.7 L1741.0,559.0 L1742.4,559.1 L1743.8,559.1 L1745.2,559.1 L1746.6,558.8 L1748.0,558.8 L1749.4,559.3 L1750.8,559.6 L1752.2,559.7 L1753.6,559.4 L1755.0,559.0 L1756.4,558.9 L1757.8,558.9 L1759.2,559.4 L1760.6,559.4 L1762.0,559.2 L1763.4,559.2 L1764.8,559.4 L1766.2,559.5 L1767.6,559.0 L1769.0,558.9 L1770.4,559.4 L1771.8,559.6 L1773.2,559.7 L1774.6,559.8 L1776.0,559.7 L1777.4,559.5 L1778.8,559.3 L1780.2,559.1 L1781.6,558.7 L1783.0,559.1 L1784.4,559.6 L1785.8,560.4 L1787.2,560.0 L1788.6,559.8 L1790.0,559.6 L1791.4,559.9 L1792.8,560.0 L1794.2,560.0 L1795.6,559.9 L1797.0,559.4 L1798.4,559.1 L1799.8,559.6 L1801.2,560.3 L1802.6,560.6 L1804.0,560.3 L1805.4,560.0 L1806.8,559.6 L1808.2,559.7 L1809.6,559.9 L1811.0,560.1 L1812.4,560.4 L1813.8,560.3 L1815.2,560.2 L1816.6,559.7 L1818.0,559.9 L1819.4,559.9 L1820.8,560.0 L1822.2,559.9 L1823.6,560.2 L1825.0,560.3 L1826.4,560.1 L1827.8,559.6 L1829.2,559.6 L1830.6,559.6 L1832.0,559.7 L1833.4,559.6 L1834.8,559.9 L1836.2,560.0 L1837.6,560.0 L1839.0,560.3 L1840.4,560.2 L1841.8,560.1 L1843.2,560.4 L1844.6,560.6 L1846.0,560.3 L1847.4,559.7 L1848.8,559.8 L1850.2,559.7 L1851.6,560.0 L1853.0,559.8 L1854.4,559.6 L1855.8,559.5 L1857.2,559.5 L1858.6,559.5 L1860.0,559.6 L1861.4,559.5 L1862.8,559.6 L1864.2,559.8 L1865.6,559.6 L1867.0,559.5 L1868.4,559.4 L1869.8,559.5 L1871.2,559.2 L1872.6,559.2 L1874.0,559.3 L1875.4,559.6 L1876.8,559.6 L1878.2,559.8 L1879.6,559.7 L1881.0,560.0 L1882.4,560.1 L1883.8,560.0 L1885.2,560.0 L1886.6,560.3 L1888.0,560.5 L1889.4,560.3 L1890.8,559.9 L1892.2,560.0 L1893.6,559.9 L1895.0,559.8 L1896.4,559.9 L1897.8,560.1 L1899.2,560.2 L1900.6,560.3 L1902.0,560.5 L1903.4,560.6 L1904.8,560.1 L1906.2,560.2 L1907.6,560.5 L1909.0,560.2 L1910.4,559.4 L1911.8,559.2 L1913.2,559.7 L1914.6,560.3 L1916.0,560.3 L1917.4,560.1 L1918.8,560.0 L1920.2,559.9 L1921.6,559.8 L1923.0,559.7 L1924.4,559.9 L1925.8,559.8 L1927.2,559.7 L1928.6,559.4 L1930.0,559.4 L1931.4,559.7 L1932.8,559.8 L1934.2,560.0 L1935.6,560.0 L1937.0,559.7 L1938.4,559.4 L1939.8,559.5 L1941.2,559.7 L1942.6,560.0 L1944.0,560.1" fill="none" stroke="#0000ff" stroke-width="2.7" stroke-linejoin="round" stroke-linecap="round"/>
<rect x="1179.5" y="25.0" width="824.0" height="588.8" fill="none" stroke="#000" stroke-width="3.2"/>
<line x1="1179.5" y1="613.8" x2="1179.5" y2="621.8" stroke="#000" stroke-width="2.8"/>
<line x1="1238.4" y1="613.8" x2="1238.4" y2="627.8" stroke="#000" stroke-width="2.8"/>
<text transform="translate(1238.4,656.3) scale(0.935,1)" font-size="28.8" text-anchor="middle" fill="#111">200</text>
<line x1="1297.2" y1="613.8" x2="1297.2" y2="621.8" stroke="#000" stroke-width="2.8"/>
<line x1="1356.1" y1="613.8" x2="1356.1" y2="627.8" stroke="#000" stroke-width="2.8"/>
<text transform="translate(1356.1,656.3) scale(0.935,1)" font-size="28.8" text-anchor="middle" fill="#111">300</text>
<line x1="1414.9" y1="613.8" x2="1414.9" y2="621.8" stroke="#000" stroke-width="2.8"/>
<line x1="1473.8" y1="613.8" x2="1473.8" y2="627.8" stroke="#000" stroke-width="2.8"/>
<text transform="translate(1473.8,656.3) scale(0.935,1)" font-size="28.8" text-anchor="middle" fill="#111">400</text>
<line x1="1532.6" y1="613.8" x2="1532.6" y2="621.8" stroke="#000" stroke-width="2.8"/>
<line x1="1591.5" y1="613.8" x2="1591.5" y2="627.8" stroke="#000" stroke-width="2.8"/>
<text transform="translate(1591.5,656.3) scale(0.935,1)" font-size="28.8" text-anchor="middle" fill="#111">500</text>
<line x1="1650.4" y1="613.8" x2="1650.4" y2="621.8" stroke="#000" stroke-width="2.8"/>
<line x1="1709.2" y1="613.8" x2="1709.2" y2="627.8" stroke="#000" stroke-width="2.8"/>
<text transform="translate(1709.2,656.3) scale(0.935,1)" font-size="28.8" text-anchor="middle" fill="#111">600</text>
<line x1="1768.1" y1="613.8" x2="1768.1" y2="621.8" stroke="#000" stroke-width="2.8"/>
<line x1="1826.9" y1="613.8" x2="1826.9" y2="627.8" stroke="#000" stroke-width="2.8"/>
<text transform="translate(1826.9,656.3) scale(0.935,1)" font-size="28.8" text-anchor="middle" fill="#111">700</text>
<line x1="1885.8" y1="613.8" x2="1885.8" y2="621.8" stroke="#000" stroke-width="2.8"/>
<line x1="1944.6" y1="613.8" x2="1944.6" y2="627.8" stroke="#000" stroke-width="2.8"/>
<text transform="translate(1944.6,656.3) scale(0.935,1)" font-size="28.8" text-anchor="middle" fill="#111">800</text>
<line x1="2003.5" y1="613.8" x2="2003.5" y2="621.8" stroke="#000" stroke-width="2.8"/>
<text x="1189.8" y="63.9" font-size="31" fill="#111">b</text>
<text x="1209.8" y="63.9" font-size="31" fill="#111">)</text>
<text x="1490.7" y="98.2" font-size="24" fill="#111">463</text>
<text x="1602.4" y="339.7" font-size="24" fill="#111">554</text>
<text x="1720.4" y="399.8" font-size="24" fill="#111">596</text>
<rect x="1591.3" y="42.3" width="389.3" height="102.1" fill="#fff" stroke="#767676" stroke-width="2.2"/>
<line x1="1615.2" y1="67.5" x2="1687.8" y2="67.5" stroke="#0000ff" stroke-width="3"/>
<line x1="1615.2" y1="117.1" x2="1687.8" y2="117.1" stroke="#ff0000" stroke-width="3"/>
<text x="1694.7" y="78.2" font-size="31.3" fill="#111">Sm<tspan font-size="19.5" dy="12">0.05</tspan><tspan dy="-12">​</tspan>Ce<tspan font-size="19.5" dy="12">0.95</tspan><tspan dy="-12">​</tspan> - Fresh</text>
<text x="1694.7" y="127.8" font-size="31.3" fill="#111">Sm<tspan font-size="19.5" dy="12">0.05</tspan><tspan dy="-12">​</tspan>Ce<tspan font-size="19.5" dy="12">0.95</tspan><tspan dy="-12">​</tspan> - Spent</text>
<text x="1593.0" y="718.5999999999999" font-size="36.5" font-weight="bold" text-anchor="middle" fill="#000"><tspan font-style="italic">Wavelength</tspan><tspan font-style="italic" font-weight="normal"> / </tspan>cm<tspan font-size="21" font-weight="normal" dy="-22">&#8722;1</tspan></text>
<text transform="translate(1125,339.4) rotate(-90)" font-size="37.3" font-weight="bold" text-anchor="middle" fill="#000"><tspan font-style="italic">Intensity</tspan> / a.u</text>
</g>
<g id="panel-c">
<line x1="459.3" y1="858.6" x2="457.6" y2="1411" stroke="#4a4a4a" stroke-width="1.8" stroke-dasharray="5,4.75"/>
<line x1="562.1" y1="1104.3" x2="562.1" y2="1402.5" stroke="#4a4a4a" stroke-width="1.8" stroke-dasharray="5,4.75"/>
<line x1="619.7" y1="1108.5" x2="619.7" y2="1406.7" stroke="#4a4a4a" stroke-width="1.8" stroke-dasharray="5,4.75"/>
<path d="M153.1,1190.9 L154.5,1190.7 L155.9,1191.2 L157.3,1192.1 L158.7,1192.2 L160.1,1191.8 L161.5,1191.0 L162.9,1191.2 L164.3,1192.0 L165.7,1192.5 L167.1,1191.6 L168.5,1190.6 L169.9,1191.0 L171.3,1191.7 L172.7,1191.3 L174.1,1190.5 L175.5,1190.2 L176.9,1190.4 L178.3,1190.3 L179.7,1190.5 L181.1,1190.8 L182.5,1191.1 L183.9,1191.0 L185.3,1190.9 L186.7,1191.3 L188.1,1190.9 L189.5,1190.4 L190.9,1189.9 L192.3,1190.3 L193.7,1190.0 L195.1,1190.2 L196.5,1190.4 L197.9,1190.7 L199.3,1190.3 L200.7,1190.1 L202.1,1189.9 L203.5,1189.7 L204.9,1189.8 L206.3,1190.0 L207.7,1190.6 L209.1,1191.0 L210.5,1190.7 L211.9,1190.1 L213.3,1189.7 L214.7,1190.2 L216.1,1190.2 L217.5,1189.9 L218.9,1189.6 L220.3,1189.7 L221.7,1190.6 L223.1,1190.5 L224.5,1190.5 L225.9,1190.1 L227.3,1190.1 L228.7,1189.7 L230.1,1190.5 L231.5,1191.0 L232.9,1192.0 L234.3,1191.9 L235.7,1191.8 L237.1,1191.3 L238.5,1190.9 L239.9,1190.4 L241.3,1190.6 L242.7,1190.8 L244.1,1190.7 L245.5,1190.3 L246.9,1190.7 L248.3,1190.5 L249.7,1190.4 L251.1,1190.3 L252.5,1190.5 L253.9,1190.2 L255.3,1190.4 L256.7,1190.1 L258.1,1189.7 L259.5,1189.0 L260.9,1189.8 L262.3,1190.3 L263.7,1190.3 L265.1,1189.5 L266.5,1189.7 L267.9,1189.9 L269.3,1189.7 L270.7,1189.7 L272.1,1189.9 L273.5,1190.0 L274.9,1189.9 L276.3,1190.2 L277.7,1190.2 L279.1,1190.7 L280.5,1190.9 L281.9,1190.3 L283.3,1189.1 L284.7,1189.2 L286.1,1189.7 L287.5,1190.4 L288.9,1190.3 L290.3,1190.2 L291.7,1189.9 L293.1,1189.8 L294.5,1190.1 L295.9,1190.3 L297.3,1190.4 L298.7,1191.0 L300.1,1191.5 L301.5,1190.8 L302.9,1190.5 L304.3,1190.8 L305.7,1190.8 L307.1,1190.3 L308.5,1190.4 L309.9,1190.3 L311.3,1189.6 L312.7,1189.2 L314.1,1189.3 L315.5,1189.9 L316.9,1190.1 L318.3,1190.0 L319.7,1190.2 L321.1,1189.9 L322.5,1189.4 L323.9,1188.8 L325.3,1188.7 L326.7,1188.0 L328.1,1188.0 L329.5,1188.5 L330.9,1188.6 L332.3,1188.4 L333.7,1188.5 L335.1,1188.8 L336.5,1188.9 L337.9,1188.8 L339.3,1188.8 L340.7,1189.0 L342.1,1189.2 L343.5,1188.9 L344.9,1188.5 L346.3,1188.0 L347.7,1187.6 L349.1,1187.7 L350.5,1188.3 L351.9,1188.9 L353.3,1188.7 L354.7,1187.8 L356.1,1187.7 L357.5,1188.3 L358.9,1188.3 L360.3,1187.7 L361.7,1187.3 L363.1,1186.6 L364.5,1185.5 L365.9,1185.0 L367.3,1185.6 L368.7,1185.2 L370.1,1184.5 L371.5,1183.4 L372.9,1182.9 L374.3,1182.1 L375.7,1181.6 L377.1,1181.5 L378.5,1181.5 L379.9,1180.5 L381.3,1179.0 L382.7,1178.3 L384.1,1178.0 L385.5,1177.5 L386.9,1176.5 L388.3,1176.7 L389.7,1177.1 L391.1,1176.8 L392.5,1175.8 L393.9,1175.6 L395.3,1174.7 L396.7,1173.4 L398.1,1172.5 L399.5,1172.9 L400.9,1172.6 L402.3,1172.0 L403.7,1171.1 L405.1,1171.0 L406.5,1171.2 L407.9,1170.3 L409.3,1168.3 L410.7,1167.4 L412.1,1166.5 L413.5,1165.0 L414.9,1163.0 L416.3,1162.1 L417.7,1161.1 L419.1,1159.6 L420.5,1157.3 L421.9,1155.0 L423.3,1153.0 L424.7,1151.7 L426.1,1149.8 L427.5,1147.4 L428.9,1144.6 L430.3,1142.8 L431.7,1140.6 L433.1,1136.8 L434.5,1132.0 L435.9,1127.1 L437.3,1121.7 L438.7,1113.6 L440.1,1103.6 L441.5,1092.5 L442.9,1080.2 L444.3,1065.4 L445.7,1046.7 L447.1,1022.7 L448.5,1001.4 L449.9,982.4 L451.3,968.0 L452.7,956.8 L454.1,949.8 L455.5,944.2 L456.9,939.9 L458.3,937.0 L459.7,937.7 L461.1,941.8 L462.5,949.8 L463.9,960.2 L465.3,976.3 L466.7,993.8 L468.1,1011.8 L469.5,1030.9 L470.9,1050.7 L472.3,1065.2 L473.7,1076.3 L475.1,1086.4 L476.5,1096.3 L477.9,1105.2 L479.3,1113.1 L480.7,1120.5 L482.1,1127.7 L483.5,1134.5 L484.9,1140.4 L486.3,1145.0 L487.7,1149.1 L489.1,1153.3 L490.5,1157.0 L491.9,1160.3 L493.3,1163.0 L494.7,1165.6 L496.1,1168.3 L497.5,1171.4 L498.9,1174.4 L500.3,1176.1 L501.7,1177.0 L503.1,1178.4 L504.5,1180.0 L505.9,1181.3 L507.3,1182.0 L508.7,1182.8 L510.1,1183.6 L511.5,1184.5 L512.9,1185.3 L514.3,1186.0 L515.7,1186.4 L517.1,1186.3 L518.5,1186.0 L519.9,1186.2 L521.3,1186.3 L522.7,1186.5 L524.1,1186.8 L525.5,1186.6 L526.9,1185.5 L528.3,1185.2 L529.7,1185.5 L531.1,1185.9 L532.5,1184.9 L533.9,1184.9 L535.3,1184.9 L536.7,1184.9 L538.1,1183.9 L539.5,1183.4 L540.9,1183.1 L542.3,1182.8 L543.7,1182.0 L545.1,1182.0 L546.5,1182.0 L547.9,1181.8 L549.3,1181.1 L550.7,1180.1 L552.1,1179.7 L553.5,1179.6 L554.9,1180.1 L556.3,1179.9 L557.7,1179.7 L559.1,1180.0 L560.5,1179.9 L561.9,1179.8 L563.3,1179.2 L564.7,1179.5 L566.1,1180.2 L567.5,1180.6 L568.9,1180.2 L570.3,1180.5 L571.7,1180.9 L573.1,1181.7 L574.5,1181.6 L575.9,1181.6 L577.3,1181.0 L578.7,1181.2 L580.1,1181.9 L581.5,1182.1 L582.9,1182.2 L584.3,1182.7 L585.7,1182.9 L587.1,1181.9 L588.5,1180.8 L589.9,1180.5 L591.3,1180.6 L592.7,1180.8 L594.1,1180.8 L595.5,1181.1 L596.9,1180.7 L598.3,1180.4 L599.7,1181.0 L601.1,1182.3 L602.5,1182.4 L603.9,1181.4 L605.3,1181.2 L606.7,1180.8 L608.1,1180.0 L609.5,1178.5 L610.9,1177.8 L612.3,1177.3 L613.7,1177.1 L615.1,1176.8 L616.5,1177.0 L617.9,1177.2 L619.3,1177.8 L620.7,1177.5 L622.1,1177.3 L623.5,1177.8 L624.9,1178.5 L626.3,1178.8 L627.7,1178.8 L629.1,1179.2 L630.5,1179.2 L631.9,1178.4 L633.3,1177.7 L634.7,1177.5 L636.1,1177.6 L637.5,1177.5 L638.9,1177.7 L640.3,1178.1 L641.7,1178.9 L643.1,1180.3 L644.5,1181.3 L645.9,1181.6 L647.3,1182.1 L648.7,1182.8 L650.1,1183.5 L651.5,1184.1 L652.9,1184.6 L654.3,1185.3 L655.7,1186.0 L657.1,1186.7 L658.5,1186.7 L659.9,1186.6 L661.3,1187.0 L662.7,1187.5 L664.1,1187.9 L665.5,1187.1 L666.9,1186.2 L668.3,1186.4 L669.7,1187.8 L671.1,1189.2 L672.5,1189.6 L673.9,1189.6 L675.3,1189.3 L676.7,1188.6 L678.1,1188.8 L679.5,1189.0 L680.9,1189.6 L682.3,1189.6 L683.7,1189.9 L685.1,1190.2 L686.5,1190.1 L687.9,1189.8 L689.3,1189.3 L690.7,1189.4 L692.1,1190.2 L693.5,1190.7 L694.9,1191.0 L696.3,1191.0 L697.7,1191.4 L699.1,1191.3 L700.5,1190.8 L701.9,1190.5 L703.3,1191.0 L704.7,1191.3 L706.1,1190.9 L707.5,1190.3 L708.9,1190.6 L710.3,1190.4 L711.7,1191.0 L713.1,1191.1 L714.5,1190.7 L715.9,1190.7 L717.3,1191.5 L718.7,1192.1 L720.1,1191.6 L721.5,1191.2 L722.9,1190.8 L724.3,1190.9 L725.7,1191.4 L727.1,1191.8 L728.5,1191.7 L729.9,1191.1 L731.3,1190.7 L732.7,1191.0 L734.1,1191.8 L735.5,1191.8 L736.9,1191.1 L738.3,1191.0 L739.7,1191.5 L741.1,1191.9 L742.5,1191.0 L743.9,1190.4 L745.3,1190.1 L746.7,1190.6 L748.1,1190.2 L749.5,1190.6 L750.9,1191.0 L752.3,1191.6 L753.7,1190.8 L755.1,1190.5 L756.5,1190.9 L757.9,1190.9 L759.3,1190.7 L760.7,1190.7 L762.1,1191.0 L763.5,1191.1 L764.9,1190.9 L766.3,1191.4 L767.7,1191.5 L769.1,1191.6 L770.5,1191.8 L771.9,1192.1 L773.3,1192.3 L774.7,1191.3 L776.1,1190.5 L777.5,1190.4 L778.9,1191.3 L780.3,1191.5 L781.7,1191.4 L783.1,1190.8 L784.5,1190.7 L785.9,1190.2 L787.3,1190.5 L788.7,1190.4 L790.1,1190.5 L791.5,1190.4 L792.9,1191.2 L794.3,1191.3 L795.7,1190.8 L797.1,1190.6 L798.5,1190.9 L799.9,1191.5 L801.3,1191.5 L802.7,1191.5 L804.1,1191.0 L805.5,1191.5 L806.9,1191.9 L808.3,1191.8 L809.7,1191.3 L811.1,1190.5 L812.5,1189.9 L813.9,1190.4 L815.3,1191.4 L816.7,1191.8 L818.1,1191.5 L819.5,1191.0 L820.9,1190.8 L822.3,1190.4 L823.7,1190.6 L825.1,1190.4 L826.5,1190.5 L827.9,1190.5 L829.3,1190.7 L830.7,1190.9 L832.1,1191.0 L833.5,1191.2 L834.9,1191.4 L836.3,1190.9 L837.7,1189.9 L839.1,1189.7 L840.5,1190.7 L841.9,1192.0 L843.3,1192.1 L844.7,1191.9 L846.1,1191.0 L847.5,1190.8 L848.9,1190.9 L850.3,1190.8 L851.7,1190.1 L853.1,1189.8 L854.5,1190.4 L855.9,1189.7 L857.3,1189.4 L858.7,1189.7" fill="none" stroke="#ff0000" stroke-width="2.7" stroke-linejoin="round" stroke-linecap="round"/>
<path d="M153.1,1354.1 L154.5,1353.5 L155.9,1352.9 L157.3,1352.9 L158.7,1353.9 L160.1,1354.1 L161.5,1354.2 L162.9,1354.0 L164.3,1353.9 L165.7,1353.6 L167.1,1353.2 L168.5,1352.8 L169.9,1352.9 L171.3,1353.1 L172.7,1353.5 L174.1,1353.9 L175.5,1354.4 L176.9,1354.2 L178.3,1354.0 L179.7,1353.5 L181.1,1353.1 L182.5,1352.8 L183.9,1353.2 L185.3,1353.0 L186.7,1352.4 L188.1,1352.4 L189.5,1352.7 L190.9,1353.3 L192.3,1353.5 L193.7,1353.7 L195.1,1353.5 L196.5,1353.6 L197.9,1353.5 L199.3,1353.6 L200.7,1353.4 L202.1,1353.2 L203.5,1352.8 L204.9,1353.1 L206.3,1353.2 L207.7,1353.1 L209.1,1353.4 L210.5,1353.5 L211.9,1353.5 L213.3,1353.1 L214.7,1353.7 L216.1,1353.8 L217.5,1353.7 L218.9,1353.4 L220.3,1353.0 L221.7,1352.9 L223.1,1353.3 L224.5,1353.6 L225.9,1353.3 L227.3,1352.7 L228.7,1352.3 L230.1,1352.2 L231.5,1352.7 L232.9,1353.1 L234.3,1353.1 L235.7,1353.3 L237.1,1353.5 L238.5,1353.5 L239.9,1353.6 L241.3,1353.3 L242.7,1353.2 L244.1,1352.5 L245.5,1352.7 L246.9,1352.8 L248.3,1353.0 L249.7,1352.6 L251.1,1352.5 L252.5,1352.6 L253.9,1352.9 L255.3,1352.7 L256.7,1352.8 L258.1,1352.7 L259.5,1352.7 L260.9,1352.5 L262.3,1353.0 L263.7,1352.9 L265.1,1352.6 L266.5,1352.7 L267.9,1353.0 L269.3,1352.7 L270.7,1352.4 L272.1,1352.6 L273.5,1353.0 L274.9,1352.8 L276.3,1352.8 L277.7,1352.8 L279.1,1353.3 L280.5,1353.0 L281.9,1353.0 L283.3,1352.7 L284.7,1352.4 L286.1,1351.8 L287.5,1352.1 L288.9,1352.4 L290.3,1352.7 L291.7,1352.9 L293.1,1353.0 L294.5,1352.8 L295.9,1353.1 L297.3,1352.6 L298.7,1351.9 L300.1,1351.4 L301.5,1351.7 L302.9,1351.4 L304.3,1351.2 L305.7,1351.4 L307.1,1351.5 L308.5,1351.7 L309.9,1352.4 L311.3,1353.3 L312.7,1353.0 L314.1,1352.5 L315.5,1352.0 L316.9,1352.0 L318.3,1351.9 L319.7,1352.2 L321.1,1352.1 L322.5,1352.4 L323.9,1352.6 L325.3,1353.0 L326.7,1352.3 L328.1,1351.4 L329.5,1351.2 L330.9,1351.6 L332.3,1352.0 L333.7,1352.0 L335.1,1352.1 L336.5,1352.2 L337.9,1352.3 L339.3,1352.2 L340.7,1351.7 L342.1,1351.8 L343.5,1351.9 L344.9,1352.1 L346.3,1351.8 L347.7,1351.9 L349.1,1351.6 L350.5,1351.4 L351.9,1351.0 L353.3,1350.7 L354.7,1350.3 L356.1,1350.1 L357.5,1350.2 L358.9,1349.9 L360.3,1350.3 L361.7,1350.2 L363.1,1350.0 L364.5,1349.9 L365.9,1350.1 L367.3,1350.0 L368.7,1349.5 L370.1,1349.5 L371.5,1348.7 L372.9,1348.0 L374.3,1347.8 L375.7,1348.3 L377.1,1348.0 L378.5,1347.7 L379.9,1347.5 L381.3,1348.0 L382.7,1348.0 L384.1,1347.8 L385.5,1347.2 L386.9,1347.1 L388.3,1347.5 L389.7,1348.2 L391.1,1348.3 L392.5,1347.6 L393.9,1346.9 L395.3,1346.6 L396.7,1346.5 L398.1,1346.3 L399.5,1346.0 L400.9,1345.4 L402.3,1345.1 L403.7,1345.1 L405.1,1345.0 L406.5,1344.9 L407.9,1344.6 L409.3,1344.1 L410.7,1343.5 L412.1,1342.5 L413.5,1341.8 L414.9,1341.1 L416.3,1340.3 L417.7,1338.7 L419.1,1337.3 L420.5,1336.6 L421.9,1335.5 L423.3,1334.1 L424.7,1332.8 L426.1,1331.6 L427.5,1329.9 L428.9,1328.2 L430.3,1326.6 L431.7,1324.8 L433.1,1322.9 L434.5,1320.6 L435.9,1317.9 L437.3,1314.0 L438.7,1309.7 L440.1,1305.0 L441.5,1300.7 L442.9,1295.9 L444.3,1290.4 L445.7,1283.5 L447.1,1274.9 L448.5,1263.3 L449.9,1250.8 L451.3,1240.3 L452.7,1230.6 L454.1,1222.2 L455.5,1214.9 L456.9,1208.1 L458.3,1203.7 L459.7,1203.6 L461.1,1208.1 L462.5,1215.0 L463.9,1221.8 L465.3,1227.2 L466.7,1233.3 L468.1,1242.3 L469.5,1256.1 L470.9,1269.8 L472.3,1278.8 L473.7,1285.8 L475.1,1291.2 L476.5,1296.1 L477.9,1301.0 L479.3,1306.1 L480.7,1310.6 L482.1,1314.4 L483.5,1318.0 L484.9,1321.4 L486.3,1324.3 L487.7,1326.5 L489.1,1328.7 L490.5,1331.3 L491.9,1333.8 L493.3,1335.7 L494.7,1336.8 L496.1,1338.5 L497.5,1340.8 L498.9,1342.9 L500.3,1344.1 L501.7,1344.7 L503.1,1345.1 L504.5,1346.0 L505.9,1347.1 L507.3,1347.9 L508.7,1348.1 L510.1,1348.4 L511.5,1348.9 L512.9,1349.4 L514.3,1349.8 L515.7,1350.0 L517.1,1350.5 L518.5,1350.9 L519.9,1351.4 L521.3,1351.2 L522.7,1350.6 L524.1,1350.2 L525.5,1350.6 L526.9,1350.5 L528.3,1350.6 L529.7,1350.6 L531.1,1350.8 L532.5,1350.3 L533.9,1349.7 L535.3,1349.2 L536.7,1349.3 L538.1,1349.5 L539.5,1349.2 L540.9,1348.5 L542.3,1348.1 L543.7,1348.2 L545.1,1348.6 L546.5,1348.6 L547.9,1348.5 L549.3,1347.7 L550.7,1347.9 L552.1,1347.9 L553.5,1348.0 L554.9,1347.6 L556.3,1346.8 L557.7,1345.9 L559.1,1345.5 L560.5,1346.1 L561.9,1346.5 L563.3,1346.9 L564.7,1346.9 L566.1,1347.1 L567.5,1347.3 L568.9,1347.3 L570.3,1346.9 L571.7,1346.4 L573.1,1346.9 L574.5,1347.3 L575.9,1347.6 L577.3,1347.8 L578.7,1348.1 L580.1,1347.7 L581.5,1347.1 L582.9,1347.4 L584.3,1347.3 L585.7,1347.3 L587.1,1347.0 L588.5,1347.2 L589.9,1347.5 L591.3,1347.6 L592.7,1347.8 L594.1,1347.8 L595.5,1348.0 L596.9,1348.7 L598.3,1349.0 L599.7,1348.4 L601.1,1347.4 L602.5,1347.3 L603.9,1347.3 L605.3,1347.2 L606.7,1346.3 L608.1,1345.6 L609.5,1345.1 L610.9,1345.6 L612.3,1345.7 L613.7,1345.2 L615.1,1344.9 L616.5,1345.4 L617.9,1346.4 L619.3,1345.6 L620.7,1345.1 L622.1,1345.2 L623.5,1346.0 L624.9,1345.9 L626.3,1345.2 L627.7,1344.9 L629.1,1345.0 L630.5,1345.5 L631.9,1345.9 L633.3,1345.9 L634.7,1346.0 L636.1,1345.8 L637.5,1345.7 L638.9,1345.8 L640.3,1346.5 L641.7,1346.9 L643.1,1347.4 L644.5,1347.8 L645.9,1347.9 L647.3,1347.9 L648.7,1347.9 L650.1,1348.2 L651.5,1348.1 L652.9,1348.9 L654.3,1349.8 L655.7,1349.9 L657.1,1349.8 L658.5,1350.1 L659.9,1350.5 L661.3,1350.4 L662.7,1350.9 L664.1,1351.3 L665.5,1351.3 L666.9,1351.2 L668.3,1351.0 L669.7,1350.6 L671.1,1350.1 L672.5,1350.4 L673.9,1351.1 L675.3,1351.5 L676.7,1351.1 L678.1,1351.0 L679.5,1351.4 L680.9,1351.9 L682.3,1352.0 L683.7,1352.1 L685.1,1352.1 L686.5,1352.2 L687.9,1352.1 L689.3,1351.9 L690.7,1352.3 L692.1,1353.6 L693.5,1354.3 L694.9,1353.5 L696.3,1352.6 L697.7,1352.9 L699.1,1353.0 L700.5,1352.7 L701.9,1352.5 L703.3,1352.7 L704.7,1352.7 L706.1,1353.1 L707.5,1353.4 L708.9,1353.4 L710.3,1353.7 L711.7,1353.7 L713.1,1353.2 L714.5,1352.8 L715.9,1353.8 L717.3,1354.4 L718.7,1354.2 L720.1,1353.4 L721.5,1353.0 L722.9,1353.3 L724.3,1354.1 L725.7,1354.5 L727.1,1353.9 L728.5,1353.2 L729.9,1352.8 L731.3,1352.7 L732.7,1353.1 L734.1,1353.3 L735.5,1353.3 L736.9,1353.4 L738.3,1353.8 L739.7,1354.0 L741.1,1353.9 L742.5,1353.7 L743.9,1353.2 L745.3,1352.9 L746.7,1353.0 L748.1,1353.3 L749.5,1353.4 L750.9,1353.4 L752.3,1353.7 L753.7,1353.8 L755.1,1353.9 L756.5,1353.7 L757.9,1353.7 L759.3,1353.8 L760.7,1353.9 L762.1,1354.1 L763.5,1353.8 L764.9,1353.3 L766.3,1353.0 L767.7,1353.2 L769.1,1353.0 L770.5,1352.8 L771.9,1352.6 L773.3,1352.8 L774.7,1352.9 L776.1,1353.3 L777.5,1353.7 L778.9,1354.1 L780.3,1353.8 L781.7,1353.3 L783.1,1353.0 L784.5,1353.7 L785.9,1354.4 L787.3,1354.4 L788.7,1353.9 L790.1,1354.2 L791.5,1354.2 L792.9,1353.7 L794.3,1353.6 L795.7,1354.1 L797.1,1353.9 L798.5,1353.8 L799.9,1354.1 L801.3,1354.4 L802.7,1353.8 L804.1,1353.3 L805.5,1353.6 L806.9,1354.1 L808.3,1354.3 L809.7,1353.9 L811.1,1354.1 L812.5,1353.9 L813.9,1354.1 L815.3,1353.9 L816.7,1353.7 L818.1,1353.7 L819.5,1353.5 L820.9,1353.3 L822.3,1353.0 L823.7,1353.1 L825.1,1352.7 L826.5,1352.6 L827.9,1352.9 L829.3,1353.3 L830.7,1353.4 L832.1,1354.1 L833.5,1354.2 L834.9,1354.5 L836.3,1354.2 L837.7,1354.1 L839.1,1352.8 L840.5,1352.2 L841.9,1352.3 L843.3,1353.3 L844.7,1353.4 L846.1,1353.3 L847.5,1353.5 L848.9,1353.6 L850.3,1353.0 L851.7,1352.4 L853.1,1352.5 L854.5,1353.0 L855.9,1353.5 L857.3,1353.4 L858.7,1353.2" fill="none" stroke="#0000ff" stroke-width="2.7" stroke-linejoin="round" stroke-linecap="round"/>
<rect x="94.3" y="839.0" width="823.7" height="587.7" fill="none" stroke="#000" stroke-width="3.2"/>
<line x1="94.3" y1="1426.7" x2="94.3" y2="1434.7" stroke="#000" stroke-width="2.8"/>
<line x1="153.1" y1="1426.7" x2="153.1" y2="1440.7" stroke="#000" stroke-width="2.8"/>
<text transform="translate(153.1,1469.2) scale(0.935,1)" font-size="28.8" text-anchor="middle" fill="#111">200</text>
<line x1="212.0" y1="1426.7" x2="212.0" y2="1434.7" stroke="#000" stroke-width="2.8"/>
<line x1="270.8" y1="1426.7" x2="270.8" y2="1440.7" stroke="#000" stroke-width="2.8"/>
<text transform="translate(270.8,1469.2) scale(0.935,1)" font-size="28.8" text-anchor="middle" fill="#111">300</text>
<line x1="329.6" y1="1426.7" x2="329.6" y2="1434.7" stroke="#000" stroke-width="2.8"/>
<line x1="388.5" y1="1426.7" x2="388.5" y2="1440.7" stroke="#000" stroke-width="2.8"/>
<text transform="translate(388.5,1469.2) scale(0.935,1)" font-size="28.8" text-anchor="middle" fill="#111">400</text>
<line x1="447.3" y1="1426.7" x2="447.3" y2="1434.7" stroke="#000" stroke-width="2.8"/>
<line x1="506.2" y1="1426.7" x2="506.2" y2="1440.7" stroke="#000" stroke-width="2.8"/>
<text transform="translate(506.2,1469.2) scale(0.935,1)" font-size="28.8" text-anchor="middle" fill="#111">500</text>
<line x1="565.0" y1="1426.7" x2="565.0" y2="1434.7" stroke="#000" stroke-width="2.8"/>
<line x1="623.8" y1="1426.7" x2="623.8" y2="1440.7" stroke="#000" stroke-width="2.8"/>
<text transform="translate(623.8,1469.2) scale(0.935,1)" font-size="28.8" text-anchor="middle" fill="#111">600</text>
<line x1="682.7" y1="1426.7" x2="682.7" y2="1434.7" stroke="#000" stroke-width="2.8"/>
<line x1="741.5" y1="1426.7" x2="741.5" y2="1440.7" stroke="#000" stroke-width="2.8"/>
<text transform="translate(741.5,1469.2) scale(0.935,1)" font-size="28.8" text-anchor="middle" fill="#111">700</text>
<line x1="800.3" y1="1426.7" x2="800.3" y2="1434.7" stroke="#000" stroke-width="2.8"/>
<line x1="859.2" y1="1426.7" x2="859.2" y2="1440.7" stroke="#000" stroke-width="2.8"/>
<text transform="translate(859.2,1469.2) scale(0.935,1)" font-size="28.8" text-anchor="middle" fill="#111">800</text>
<line x1="918.0" y1="1426.7" x2="918.0" y2="1434.7" stroke="#000" stroke-width="2.8"/>
<text x="106.5" y="876.8" font-size="31" fill="#111">c</text>
<text x="124.6" y="876.8" font-size="31" fill="#111">)</text>
<text x="404.0" y="955.2" font-size="24" fill="#111">463</text>
<text x="567.0" y="1126.1" font-size="24" fill="#111">554</text>
<text x="630.4" y="1130.3" font-size="24" fill="#111">596</text>
<rect x="515.5" y="855.7" width="366.7" height="102.9" fill="#fff" stroke="#767676" stroke-width="2.2"/>
<line x1="537.8" y1="880.9" x2="610.4" y2="880.9" stroke="#0000ff" stroke-width="3"/>
<line x1="537.8" y1="930" x2="610.4" y2="930" stroke="#ff0000" stroke-width="3"/>
<text x="617.4" y="891.6" font-size="31.3" fill="#111">Sm<tspan font-size="19.5" dy="12">0.1</tspan><tspan dy="-12">​</tspan>Ce<tspan font-size="19.5" dy="12">0.9</tspan><tspan dy="-12">​</tspan> - Fresh</text>
<text x="617.4" y="940.7" font-size="31.3" fill="#111">Sm<tspan font-size="19.5" dy="12">0.1</tspan><tspan dy="-12">​</tspan>Ce<tspan font-size="19.5" dy="12">0.9</tspan><tspan dy="-12">​</tspan> - Spent</text>
<text x="507.6" y="1530.5" font-size="36.5" font-weight="bold" text-anchor="middle" fill="#000"><tspan font-style="italic">Wavelength</tspan><tspan font-style="italic" font-weight="normal"> / </tspan>cm<tspan font-size="21" font-weight="normal" dy="-22">&#8722;1</tspan></text>
<text transform="translate(40.8,1152.8) rotate(-90)" font-size="37.3" font-weight="bold" text-anchor="middle" fill="#000"><tspan font-style="italic">Intensity</tspan> / a.u</text>
</g>
<g id="panel-d">
<line x1="1542.9" y1="860.7" x2="1541.3" y2="1413" stroke="#4a4a4a" stroke-width="1.8" stroke-dasharray="5,4.75"/>
<line x1="1653.4" y1="1114.8" x2="1653.4" y2="1414.2" stroke="#4a4a4a" stroke-width="1.8" stroke-dasharray="5,4.75"/>
<line x1="1701.3" y1="1110.6" x2="1701.3" y2="1408.8" stroke="#4a4a4a" stroke-width="1.8" stroke-dasharray="5,4.75"/>
<path d="M1238.4,1204.4 L1239.8,1204.5 L1241.2,1204.2 L1242.6,1203.9 L1244.0,1203.8 L1245.4,1204.1 L1246.8,1205.0 L1248.2,1205.4 L1249.6,1205.0 L1251.0,1204.8 L1252.4,1205.3 L1253.8,1205.6 L1255.2,1205.1 L1256.6,1204.9 L1258.0,1205.3 L1259.4,1205.3 L1260.8,1205.0 L1262.2,1204.2 L1263.6,1204.1 L1265.0,1203.7 L1266.4,1204.3 L1267.8,1204.5 L1269.2,1205.2 L1270.6,1205.6 L1272.0,1206.0 L1273.4,1205.0 L1274.8,1204.5 L1276.2,1204.8 L1277.6,1205.8 L1279.0,1205.5 L1280.4,1205.1 L1281.8,1204.9 L1283.2,1205.1 L1284.6,1205.6 L1286.0,1205.9 L1287.4,1206.0 L1288.8,1206.0 L1290.2,1206.2 L1291.6,1206.0 L1293.0,1205.7 L1294.4,1206.0 L1295.8,1205.5 L1297.2,1205.3 L1298.6,1205.9 L1300.0,1205.9 L1301.4,1205.8 L1302.8,1205.6 L1304.2,1205.8 L1305.6,1206.1 L1307.0,1206.6 L1308.4,1206.2 L1309.8,1205.3 L1311.2,1205.3 L1312.6,1205.7 L1314.0,1205.8 L1315.4,1205.6 L1316.8,1205.8 L1318.2,1206.1 L1319.6,1205.9 L1321.0,1205.4 L1322.4,1204.8 L1323.8,1204.9 L1325.2,1204.4 L1326.6,1204.2 L1328.0,1204.1 L1329.4,1204.8 L1330.8,1205.5 L1332.2,1205.0 L1333.6,1204.1 L1335.0,1203.9 L1336.4,1203.7 L1337.8,1203.5 L1339.2,1203.3 L1340.6,1204.5 L1342.0,1205.0 L1343.4,1204.7 L1344.8,1204.0 L1346.2,1203.5 L1347.6,1204.1 L1349.0,1204.3 L1350.4,1203.9 L1351.8,1203.4 L1353.2,1203.6 L1354.6,1203.5 L1356.0,1202.9 L1357.4,1202.7 L1358.8,1202.7 L1360.2,1203.4 L1361.6,1203.7 L1363.0,1203.7 L1364.4,1203.4 L1365.8,1203.0 L1367.2,1203.2 L1368.6,1203.1 L1370.0,1203.2 L1371.4,1202.3 L1372.8,1202.1 L1374.2,1201.4 L1375.6,1200.8 L1377.0,1200.4 L1378.4,1200.8 L1379.8,1201.4 L1381.2,1202.3 L1382.6,1202.5 L1384.0,1201.7 L1385.4,1200.9 L1386.8,1201.4 L1388.2,1201.4 L1389.6,1201.1 L1391.0,1201.0 L1392.4,1201.2 L1393.8,1200.8 L1395.2,1200.2 L1396.6,1200.0 L1398.0,1199.8 L1399.4,1199.7 L1400.8,1199.4 L1402.2,1199.8 L1403.6,1199.8 L1405.0,1199.9 L1406.4,1199.2 L1407.8,1198.8 L1409.2,1197.9 L1410.6,1197.3 L1412.0,1197.4 L1413.4,1197.3 L1414.8,1197.5 L1416.2,1196.8 L1417.6,1197.3 L1419.0,1196.7 L1420.4,1197.2 L1421.8,1196.8 L1423.2,1196.2 L1424.6,1195.8 L1426.0,1196.2 L1427.4,1196.3 L1428.8,1195.2 L1430.2,1194.2 L1431.6,1193.4 L1433.0,1193.3 L1434.4,1193.0 L1435.8,1192.6 L1437.2,1191.5 L1438.6,1190.9 L1440.0,1190.0 L1441.4,1190.0 L1442.8,1189.9 L1444.2,1189.9 L1445.6,1189.0 L1447.0,1188.2 L1448.4,1187.1 L1449.8,1186.5 L1451.2,1186.2 L1452.6,1185.7 L1454.0,1185.3 L1455.4,1184.4 L1456.8,1183.6 L1458.2,1183.9 L1459.6,1184.0 L1461.0,1183.1 L1462.4,1182.1 L1463.8,1182.5 L1465.2,1182.0 L1466.6,1180.9 L1468.0,1179.8 L1469.4,1179.2 L1470.8,1178.8 L1472.2,1178.8 L1473.6,1178.7 L1475.0,1177.6 L1476.4,1177.0 L1477.8,1176.2 L1479.2,1175.5 L1480.6,1174.1 L1482.0,1172.7 L1483.4,1172.1 L1484.8,1171.3 L1486.2,1170.3 L1487.6,1168.6 L1489.0,1167.1 L1490.4,1165.3 L1491.8,1163.9 L1493.2,1162.4 L1494.6,1160.6 L1496.0,1158.6 L1497.4,1157.1 L1498.8,1155.3 L1500.2,1153.1 L1501.6,1150.1 L1503.0,1146.7 L1504.4,1143.8 L1505.8,1141.2 L1507.2,1137.7 L1508.6,1132.7 L1510.0,1127.1 L1511.4,1121.5 L1512.8,1115.7 L1514.2,1109.8 L1515.6,1104.1 L1517.0,1097.8 L1518.4,1091.7 L1519.8,1085.3 L1521.2,1079.4 L1522.6,1073.1 L1524.0,1066.2 L1525.4,1057.5 L1526.8,1046.6 L1528.2,1034.8 L1529.6,1022.5 L1531.0,1009.0 L1532.4,994.3 L1533.8,982.0 L1535.2,971.2 L1536.6,962.3 L1538.0,955.9 L1539.4,950.9 L1540.8,947.0 L1542.2,946.7 L1543.6,948.3 L1545.0,951.3 L1546.4,955.5 L1547.8,960.9 L1549.2,967.9 L1550.6,976.0 L1552.0,984.8 L1553.4,994.2 L1554.8,1004.8 L1556.2,1017.5 L1557.6,1033.8 L1559.0,1048.2 L1560.4,1059.2 L1561.8,1069.2 L1563.2,1077.5 L1564.6,1084.5 L1566.0,1088.5 L1567.4,1091.5 L1568.8,1094.4 L1570.2,1099.1 L1571.6,1105.5 L1573.0,1114.1 L1574.4,1123.7 L1575.8,1132.8 L1577.2,1141.8 L1578.6,1150.7 L1580.0,1159.2 L1581.4,1165.9 L1582.8,1170.7 L1584.2,1174.8 L1585.6,1178.5 L1587.0,1181.9 L1588.4,1185.6 L1589.8,1190.0 L1591.2,1193.8 L1592.6,1195.0 L1594.0,1195.4 L1595.4,1197.0 L1596.8,1198.7 L1598.2,1199.8 L1599.6,1200.0 L1601.0,1200.5 L1602.4,1201.0 L1603.8,1201.2 L1605.2,1201.0 L1606.6,1199.8 L1608.0,1199.0 L1609.4,1198.2 L1610.8,1198.0 L1612.2,1196.9 L1613.6,1196.1 L1615.0,1195.0 L1616.4,1194.1 L1617.8,1193.7 L1619.2,1193.6 L1620.6,1193.0 L1622.0,1191.7 L1623.4,1190.8 L1624.8,1189.3 L1626.2,1188.1 L1627.6,1187.5 L1629.0,1187.7 L1630.4,1186.6 L1631.8,1185.7 L1633.2,1185.1 L1634.6,1185.1 L1636.0,1184.8 L1637.4,1184.0 L1638.8,1183.3 L1640.2,1182.4 L1641.6,1181.2 L1643.0,1179.3 L1644.4,1179.0 L1645.8,1179.1 L1647.2,1179.3 L1648.6,1178.5 L1650.0,1177.7 L1651.4,1177.1 L1652.8,1176.4 L1654.2,1175.9 L1655.6,1175.6 L1657.0,1176.0 L1658.4,1176.2 L1659.8,1175.9 L1661.2,1175.1 L1662.6,1174.6 L1664.0,1175.3 L1665.4,1176.2 L1666.8,1176.6 L1668.2,1176.2 L1669.6,1176.0 L1671.0,1176.3 L1672.4,1177.3 L1673.8,1178.1 L1675.2,1178.3 L1676.6,1178.3 L1678.0,1178.8 L1679.4,1178.7 L1680.8,1178.7 L1682.2,1178.7 L1683.6,1179.5 L1685.0,1179.5 L1686.4,1179.8 L1687.8,1180.1 L1689.2,1180.2 L1690.6,1179.4 L1692.0,1178.8 L1693.4,1178.8 L1694.8,1178.4 L1696.2,1178.2 L1697.6,1178.9 L1699.0,1179.2 L1700.4,1178.5 L1701.8,1177.2 L1703.2,1177.2 L1704.6,1176.8 L1706.0,1176.3 L1707.4,1176.5 L1708.8,1176.6 L1710.2,1176.9 L1711.6,1177.1 L1713.0,1177.4 L1714.4,1176.9 L1715.8,1177.1 L1717.2,1177.1 L1718.6,1176.6 L1720.0,1175.8 L1721.4,1176.4 L1722.8,1177.9 L1724.2,1179.5 L1725.6,1179.9 L1727.0,1179.8 L1728.4,1180.1 L1729.8,1181.3 L1731.2,1182.4 L1732.6,1183.3 L1734.0,1184.1 L1735.4,1184.9 L1736.8,1185.7 L1738.2,1186.6 L1739.6,1187.6 L1741.0,1188.6 L1742.4,1190.1 L1743.8,1191.4 L1745.2,1192.0 L1746.6,1191.6 L1748.0,1192.1 L1749.4,1192.4 L1750.8,1192.9 L1752.2,1193.9 L1753.6,1195.8 L1755.0,1196.9 L1756.4,1196.7 L1757.8,1196.8 L1759.2,1197.4 L1760.6,1198.7 L1762.0,1200.2 L1763.4,1201.0 L1764.8,1200.6 L1766.2,1199.5 L1767.6,1199.5 L1769.0,1200.0 L1770.4,1200.2 L1771.8,1200.3 L1773.2,1200.2 L1774.6,1201.0 L1776.0,1201.7 L1777.4,1202.6 L1778.8,1202.2 L1780.2,1202.0 L1781.6,1201.8 L1783.0,1201.9 L1784.4,1201.8 L1785.8,1201.5 L1787.2,1201.2 L1788.6,1201.8 L1790.0,1202.6 L1791.4,1203.2 L1792.8,1203.5 L1794.2,1203.2 L1795.6,1202.6 L1797.0,1202.5 L1798.4,1203.4 L1799.8,1203.6 L1801.2,1203.8 L1802.6,1203.9 L1804.0,1203.5 L1805.4,1202.7 L1806.8,1202.9 L1808.2,1203.7 L1809.6,1203.3 L1811.0,1203.2 L1812.4,1203.7 L1813.8,1204.8 L1815.2,1204.2 L1816.6,1203.7 L1818.0,1202.8 L1819.4,1203.8 L1820.8,1204.2 L1822.2,1204.9 L1823.6,1204.0 L1825.0,1203.8 L1826.4,1202.7 L1827.8,1202.6 L1829.2,1203.1 L1830.6,1203.4 L1832.0,1203.6 L1833.4,1203.7 L1834.8,1203.7 L1836.2,1202.9 L1837.6,1202.7 L1839.0,1203.1 L1840.4,1203.1 L1841.8,1202.9 L1843.2,1202.8 L1844.6,1202.7 L1846.0,1202.4 L1847.4,1202.5 L1848.8,1203.3 L1850.2,1203.4 L1851.6,1203.1 L1853.0,1202.7 L1854.4,1202.8 L1855.8,1203.1 L1857.2,1203.4 L1858.6,1204.1 L1860.0,1203.8 L1861.4,1203.8 L1862.8,1203.3 L1864.2,1203.3 L1865.6,1203.3 L1867.0,1203.5 L1868.4,1203.9 L1869.8,1203.7 L1871.2,1203.3 L1872.6,1202.9 L1874.0,1203.1 L1875.4,1203.8 L1876.8,1203.6 L1878.2,1203.4 L1879.6,1202.5 L1881.0,1202.9 L1882.4,1202.8 L1883.8,1202.5 L1885.2,1202.2 L1886.6,1203.2 L1888.0,1203.4 L1889.4,1202.7 L1890.8,1202.1 L1892.2,1202.3 L1893.6,1202.8 L1895.0,1202.9 L1896.4,1202.9 L1897.8,1203.0 L1899.2,1203.2 L1900.6,1203.4 L1902.0,1203.0 L1903.4,1202.6 L1904.8,1201.8 L1906.2,1202.7 L1907.6,1203.5 L1909.0,1203.9 L1910.4,1203.3 L1911.8,1203.4 L1913.2,1203.4 L1914.6,1204.1 L1916.0,1203.8 L1917.4,1202.9 L1918.8,1201.8 L1920.2,1201.7 L1921.6,1202.5 L1923.0,1203.4 L1924.4,1203.5 L1925.8,1202.5 L1927.2,1202.0 L1928.6,1203.0 L1930.0,1202.7 L1931.4,1202.5 L1932.8,1202.0 L1934.2,1203.2 L1935.6,1202.8 L1937.0,1202.8 L1938.4,1202.0 L1939.8,1201.9 L1941.2,1202.5 L1942.6,1203.6 L1944.0,1203.9" fill="none" stroke="#ff0000" stroke-width="2.7" stroke-linejoin="round" stroke-linecap="round"/>
<path d="M1238.4,1349.0 L1239.8,1348.5 L1241.2,1348.8 L1242.6,1348.5 L1244.0,1348.5 L1245.4,1348.5 L1246.8,1349.1 L1248.2,1349.5 L1249.6,1350.0 L1251.0,1349.9 L1252.4,1349.5 L1253.8,1349.2 L1255.2,1349.4 L1256.6,1349.2 L1258.0,1348.8 L1259.4,1348.5 L1260.8,1348.9 L1262.2,1348.5 L1263.6,1348.2 L1265.0,1347.9 L1266.4,1348.1 L1267.8,1347.7 L1269.2,1347.5 L1270.6,1347.5 L1272.0,1347.7 L1273.4,1347.5 L1274.8,1347.6 L1276.2,1347.1 L1277.6,1347.3 L1279.0,1347.3 L1280.4,1346.9 L1281.8,1346.3 L1283.2,1347.1 L1284.6,1347.6 L1286.0,1347.9 L1287.4,1348.0 L1288.8,1347.9 L1290.2,1346.6 L1291.6,1345.7 L1293.0,1346.3 L1294.4,1346.9 L1295.8,1346.7 L1297.2,1345.9 L1298.6,1346.1 L1300.0,1346.6 L1301.4,1347.2 L1302.8,1347.6 L1304.2,1347.3 L1305.6,1346.9 L1307.0,1346.4 L1308.4,1346.6 L1309.8,1346.5 L1311.2,1346.4 L1312.6,1346.9 L1314.0,1347.6 L1315.4,1347.9 L1316.8,1348.1 L1318.2,1348.6 L1319.6,1348.3 L1321.0,1347.6 L1322.4,1347.2 L1323.8,1347.6 L1325.2,1347.7 L1326.6,1348.3 L1328.0,1348.2 L1329.4,1348.1 L1330.8,1347.6 L1332.2,1347.9 L1333.6,1348.2 L1335.0,1348.7 L1336.4,1348.6 L1337.8,1348.6 L1339.2,1348.9 L1340.6,1349.2 L1342.0,1349.2 L1343.4,1349.2 L1344.8,1349.6 L1346.2,1349.3 L1347.6,1348.3 L1349.0,1348.8 L1350.4,1349.5 L1351.8,1350.3 L1353.2,1349.7 L1354.6,1350.0 L1356.0,1350.1 L1357.4,1350.2 L1358.8,1349.5 L1360.2,1349.4 L1361.6,1349.5 L1363.0,1349.7 L1364.4,1349.2 L1365.8,1349.1 L1367.2,1349.4 L1368.6,1349.6 L1370.0,1349.7 L1371.4,1350.0 L1372.8,1350.3 L1374.2,1350.0 L1375.6,1349.7 L1377.0,1350.0 L1378.4,1350.0 L1379.8,1349.8 L1381.2,1349.6 L1382.6,1350.0 L1384.0,1350.1 L1385.4,1349.9 L1386.8,1350.3 L1388.2,1350.6 L1389.6,1350.3 L1391.0,1349.3 L1392.4,1349.3 L1393.8,1349.9 L1395.2,1349.8 L1396.6,1349.7 L1398.0,1349.3 L1399.4,1349.2 L1400.8,1349.2 L1402.2,1350.1 L1403.6,1350.3 L1405.0,1349.7 L1406.4,1349.5 L1407.8,1349.3 L1409.2,1349.2 L1410.6,1349.0 L1412.0,1349.4 L1413.4,1349.4 L1414.8,1349.1 L1416.2,1348.9 L1417.6,1348.5 L1419.0,1348.5 L1420.4,1348.3 L1421.8,1348.1 L1423.2,1347.7 L1424.6,1347.8 L1426.0,1348.2 L1427.4,1348.2 L1428.8,1348.1 L1430.2,1348.1 L1431.6,1348.1 L1433.0,1347.4 L1434.4,1347.1 L1435.8,1347.2 L1437.2,1346.7 L1438.6,1345.8 L1440.0,1345.7 L1441.4,1345.9 L1442.8,1345.6 L1444.2,1345.0 L1445.6,1345.2 L1447.0,1345.5 L1448.4,1345.8 L1449.8,1345.9 L1451.2,1345.7 L1452.6,1345.2 L1454.0,1345.2 L1455.4,1344.9 L1456.8,1344.7 L1458.2,1343.8 L1459.6,1343.9 L1461.0,1344.2 L1462.4,1344.7 L1463.8,1344.1 L1465.2,1343.9 L1466.6,1343.8 L1468.0,1343.4 L1469.4,1342.7 L1470.8,1342.3 L1472.2,1342.2 L1473.6,1342.5 L1475.0,1342.7 L1476.4,1342.0 L1477.8,1341.0 L1479.2,1340.0 L1480.6,1338.0 L1482.0,1336.4 L1483.4,1335.3 L1484.8,1334.9 L1486.2,1334.2 L1487.6,1333.8 L1489.0,1333.8 L1490.4,1333.3 L1491.8,1333.1 L1493.2,1332.9 L1494.6,1332.1 L1496.0,1331.3 L1497.4,1330.6 L1498.8,1330.0 L1500.2,1328.8 L1501.6,1327.6 L1503.0,1326.5 L1504.4,1325.4 L1505.8,1324.1 L1507.2,1322.9 L1508.6,1321.4 L1510.0,1319.9 L1511.4,1318.6 L1512.8,1317.7 L1514.2,1315.3 L1515.6,1310.2 L1517.0,1306.7 L1518.4,1304.0 L1519.8,1301.4 L1521.2,1298.6 L1522.6,1295.4 L1524.0,1291.0 L1525.4,1286.1 L1526.8,1280.2 L1528.2,1273.9 L1529.6,1266.7 L1531.0,1257.4 L1532.4,1247.9 L1533.8,1240.8 L1535.2,1236.4 L1536.6,1232.6 L1538.0,1229.0 L1539.4,1225.6 L1540.8,1222.3 L1542.2,1220.2 L1543.6,1219.7 L1545.0,1220.8 L1546.4,1223.6 L1547.8,1227.0 L1549.2,1230.6 L1550.6,1234.1 L1552.0,1238.0 L1553.4,1243.3 L1554.8,1251.6 L1556.2,1259.9 L1557.6,1265.7 L1559.0,1270.3 L1560.4,1274.2 L1561.8,1277.7 L1563.2,1282.2 L1564.6,1287.9 L1566.0,1292.3 L1567.4,1294.3 L1568.8,1295.8 L1570.2,1297.8 L1571.6,1300.7 L1573.0,1305.5 L1574.4,1311.1 L1575.8,1315.4 L1577.2,1318.9 L1578.6,1322.6 L1580.0,1325.8 L1581.4,1328.9 L1582.8,1331.6 L1584.2,1334.8 L1585.6,1337.1 L1587.0,1338.8 L1588.4,1340.0 L1589.8,1341.8 L1591.2,1343.7 L1592.6,1345.5 L1594.0,1346.3 L1595.4,1346.9 L1596.8,1347.5 L1598.2,1348.2 L1599.6,1348.8 L1601.0,1349.9 L1602.4,1350.3 L1603.8,1350.2 L1605.2,1349.7 L1606.6,1349.6 L1608.0,1349.3 L1609.4,1349.4 L1610.8,1349.8 L1612.2,1349.7 L1613.6,1349.7 L1615.0,1349.3 L1616.4,1349.4 L1617.8,1349.1 L1619.2,1349.1 L1620.6,1348.8 L1622.0,1349.0 L1623.4,1348.9 L1624.8,1348.8 L1626.2,1347.9 L1627.6,1347.0 L1629.0,1346.5 L1630.4,1345.7 L1631.8,1344.7 L1633.2,1343.9 L1634.6,1344.5 L1636.0,1344.5 L1637.4,1344.2 L1638.8,1344.1 L1640.2,1344.0 L1641.6,1343.4 L1643.0,1343.2 L1644.4,1343.1 L1645.8,1342.4 L1647.2,1342.0 L1648.6,1341.9 L1650.0,1342.2 L1651.4,1342.0 L1652.8,1341.3 L1654.2,1340.5 L1655.6,1340.1 L1657.0,1340.1 L1658.4,1340.0 L1659.8,1339.5 L1661.2,1339.2 L1662.6,1339.1 L1664.0,1340.2 L1665.4,1340.7 L1666.8,1340.8 L1668.2,1340.7 L1669.6,1340.7 L1671.0,1340.7 L1672.4,1340.7 L1673.8,1340.9 L1675.2,1341.1 L1676.6,1341.3 L1678.0,1341.0 L1679.4,1340.7 L1680.8,1340.6 L1682.2,1340.4 L1683.6,1340.3 L1685.0,1340.6 L1686.4,1340.8 L1687.8,1341.9 L1689.2,1342.0 L1690.6,1341.9 L1692.0,1340.7 L1693.4,1340.7 L1694.8,1340.4 L1696.2,1340.8 L1697.6,1341.1 L1699.0,1341.2 L1700.4,1340.5 L1701.8,1339.8 L1703.2,1339.4 L1704.6,1339.3 L1706.0,1339.5 L1707.4,1339.8 L1708.8,1339.9 L1710.2,1339.4 L1711.6,1338.9 L1713.0,1338.1 L1714.4,1337.7 L1715.8,1337.8 L1717.2,1338.7 L1718.6,1339.5 L1720.0,1340.1 L1721.4,1340.1 L1722.8,1340.6 L1724.2,1341.5 L1725.6,1341.9 L1727.0,1341.7 L1728.4,1341.9 L1729.8,1342.3 L1731.2,1342.5 L1732.6,1342.8 L1734.0,1343.2 L1735.4,1343.6 L1736.8,1343.4 L1738.2,1343.2 L1739.6,1343.9 L1741.0,1344.6 L1742.4,1345.2 L1743.8,1345.4 L1745.2,1346.3 L1746.6,1346.4 L1748.0,1346.9 L1749.4,1347.5 L1750.8,1347.8 L1752.2,1347.4 L1753.6,1347.4 L1755.0,1347.7 L1756.4,1347.8 L1757.8,1348.1 L1759.2,1348.7 L1760.6,1349.4 L1762.0,1349.5 L1763.4,1349.4 L1764.8,1349.5 L1766.2,1350.0 L1767.6,1350.7 L1769.0,1350.8 L1770.4,1350.3 L1771.8,1349.9 L1773.2,1350.6 L1774.6,1351.1 L1776.0,1350.7 L1777.4,1349.9 L1778.8,1350.3 L1780.2,1350.5 L1781.6,1350.4 L1783.0,1350.0 L1784.4,1349.7 L1785.8,1349.5 L1787.2,1349.2 L1788.6,1349.5 L1790.0,1349.8 L1791.4,1350.4 L1792.8,1350.4 L1794.2,1350.3 L1795.6,1350.1 L1797.0,1349.6 L1798.4,1349.4 L1799.8,1349.7 L1801.2,1350.1 L1802.6,1349.2 L1804.0,1349.1 L1805.4,1349.4 L1806.8,1350.1 L1808.2,1350.3 L1809.6,1350.2 L1811.0,1350.6 L1812.4,1350.8 L1813.8,1350.9 L1815.2,1349.6 L1816.6,1348.6 L1818.0,1348.9 L1819.4,1349.9 L1820.8,1350.6 L1822.2,1350.1 L1823.6,1349.9 L1825.0,1349.8 L1826.4,1349.7 L1827.8,1350.0 L1829.2,1349.7 L1830.6,1349.8 L1832.0,1349.4 L1833.4,1349.8 L1834.8,1350.1 L1836.2,1350.0 L1837.6,1349.8 L1839.0,1349.6 L1840.4,1350.1 L1841.8,1350.0 L1843.2,1349.8 L1844.6,1349.6 L1846.0,1350.1 L1847.4,1350.5 L1848.8,1350.4 L1850.2,1350.0 L1851.6,1349.4 L1853.0,1349.1 L1854.4,1349.0 L1855.8,1349.3 L1857.2,1349.2 L1858.6,1349.2 L1860.0,1349.5 L1861.4,1350.3 L1862.8,1350.3 L1864.2,1349.7 L1865.6,1349.4 L1867.0,1349.8 L1868.4,1349.7 L1869.8,1349.8 L1871.2,1349.9 L1872.6,1349.9 L1874.0,1349.3 L1875.4,1349.1 L1876.8,1349.2 L1878.2,1349.2 L1879.6,1350.0 L1881.0,1350.4 L1882.4,1350.4 L1883.8,1349.5 L1885.2,1349.4 L1886.6,1349.8 L1888.0,1350.2 L1889.4,1349.7 L1890.8,1349.3 L1892.2,1348.8 L1893.6,1349.4 L1895.0,1349.9 L1896.4,1350.4 L1897.8,1350.0 L1899.2,1349.7 L1900.6,1349.5 L1902.0,1349.8 L1903.4,1350.0 L1904.8,1350.1 L1906.2,1350.0 L1907.6,1350.1 L1909.0,1350.0 L1910.4,1350.2 L1911.8,1350.2 L1913.2,1350.2 L1914.6,1349.8 L1916.0,1349.6 L1917.4,1349.2 L1918.8,1349.7 L1920.2,1349.9 L1921.6,1350.3 L1923.0,1350.0 L1924.4,1350.0 L1925.8,1349.5 L1927.2,1349.9 L1928.6,1349.8 L1930.0,1350.1 L1931.4,1349.8 L1932.8,1349.6 L1934.2,1349.6 L1935.6,1349.4 L1937.0,1349.1 L1938.4,1349.6 L1939.8,1350.0 L1941.2,1350.4 L1942.6,1349.9 L1944.0,1350.0" fill="none" stroke="#0000ff" stroke-width="2.7" stroke-linejoin="round" stroke-linecap="round"/>
<rect x="1179.5" y="845.0" width="824.0" height="588.0" fill="none" stroke="#000" stroke-width="3.2"/>
<line x1="1179.5" y1="1433.0" x2="1179.5" y2="1441.0" stroke="#000" stroke-width="2.8"/>
<line x1="1238.4" y1="1433.0" x2="1238.4" y2="1447.0" stroke="#000" stroke-width="2.8"/>
<text transform="translate(1238.4,1475.5) scale(0.935,1)" font-size="28.8" text-anchor="middle" fill="#111">200</text>
<line x1="1297.2" y1="1433.0" x2="1297.2" y2="1441.0" stroke="#000" stroke-width="2.8"/>
<line x1="1356.1" y1="1433.0" x2="1356.1" y2="1447.0" stroke="#000" stroke-width="2.8"/>
<text transform="translate(1356.1,1475.5) scale(0.935,1)" font-size="28.8" text-anchor="middle" fill="#111">300</text>
<line x1="1414.9" y1="1433.0" x2="1414.9" y2="1441.0" stroke="#000" stroke-width="2.8"/>
<line x1="1473.8" y1="1433.0" x2="1473.8" y2="1447.0" stroke="#000" stroke-width="2.8"/>
<text transform="translate(1473.8,1475.5) scale(0.935,1)" font-size="28.8" text-anchor="middle" fill="#111">400</text>
<line x1="1532.6" y1="1433.0" x2="1532.6" y2="1441.0" stroke="#000" stroke-width="2.8"/>
<line x1="1591.5" y1="1433.0" x2="1591.5" y2="1447.0" stroke="#000" stroke-width="2.8"/>
<text transform="translate(1591.5,1475.5) scale(0.935,1)" font-size="28.8" text-anchor="middle" fill="#111">500</text>
<line x1="1650.4" y1="1433.0" x2="1650.4" y2="1441.0" stroke="#000" stroke-width="2.8"/>
<line x1="1709.2" y1="1433.0" x2="1709.2" y2="1447.0" stroke="#000" stroke-width="2.8"/>
<text transform="translate(1709.2,1475.5) scale(0.935,1)" font-size="28.8" text-anchor="middle" fill="#111">600</text>
<line x1="1768.1" y1="1433.0" x2="1768.1" y2="1441.0" stroke="#000" stroke-width="2.8"/>
<line x1="1826.9" y1="1433.0" x2="1826.9" y2="1447.0" stroke="#000" stroke-width="2.8"/>
<text transform="translate(1826.9,1475.5) scale(0.935,1)" font-size="28.8" text-anchor="middle" fill="#111">700</text>
<line x1="1885.8" y1="1433.0" x2="1885.8" y2="1441.0" stroke="#000" stroke-width="2.8"/>
<line x1="1944.6" y1="1433.0" x2="1944.6" y2="1447.0" stroke="#000" stroke-width="2.8"/>
<text transform="translate(1944.6,1475.5) scale(0.935,1)" font-size="28.8" text-anchor="middle" fill="#111">800</text>
<line x1="2003.5" y1="1433.0" x2="2003.5" y2="1441.0" stroke="#000" stroke-width="2.8"/>
<text x="1194.4" y="887.7" font-size="31" fill="#111">d</text>
<text x="1214.4" y="887.7" font-size="31" fill="#111">)</text>
<text x="1494.9" y="922.9" font-size="24" fill="#111">463</text>
<text x="1605.8" y="1163.9" font-size="24" fill="#111">554</text>
<text x="1709.5" y="1138.7" font-size="24" fill="#111">596</text>
<rect x="1600.5" y="863.6" width="366.6" height="102.1" fill="#fff" stroke="#767676" stroke-width="2.2"/>
<line x1="1623.6" y1="888.8" x2="1696.2" y2="888.8" stroke="#0000ff" stroke-width="3"/>
<line x1="1623.6" y1="937.6" x2="1696.2" y2="937.6" stroke="#ff0000" stroke-width="3"/>
<text x="1702.7" y="899.5" font-size="31.3" fill="#111">Sm<tspan font-size="19.5" dy="12">0.2</tspan><tspan dy="-12">​</tspan>Ce<tspan font-size="19.5" dy="12">0.8</tspan><tspan dy="-12">​</tspan> - Fresh</text>
<text x="1702.7" y="948.3" font-size="31.3" fill="#111">Sm<tspan font-size="19.5" dy="12">0.2</tspan><tspan dy="-12">​</tspan>Ce<tspan font-size="19.5" dy="12">0.8</tspan><tspan dy="-12">​</tspan> - Spent</text>
<text x="1593.0" y="1538.7" font-size="36.5" font-weight="bold" text-anchor="middle" fill="#000"><tspan font-style="italic">Wavelength</tspan><tspan font-style="italic" font-weight="normal"> / </tspan>cm<tspan font-size="21" font-weight="normal" dy="-22">&#8722;1</tspan></text>
<text transform="translate(1125.9,1159.0) rotate(-90)" font-size="37.3" font-weight="bold" text-anchor="middle" fill="#000"><tspan font-style="italic">Intensity</tspan> / a.u</text>
</g>
</svg>
</body></html>
